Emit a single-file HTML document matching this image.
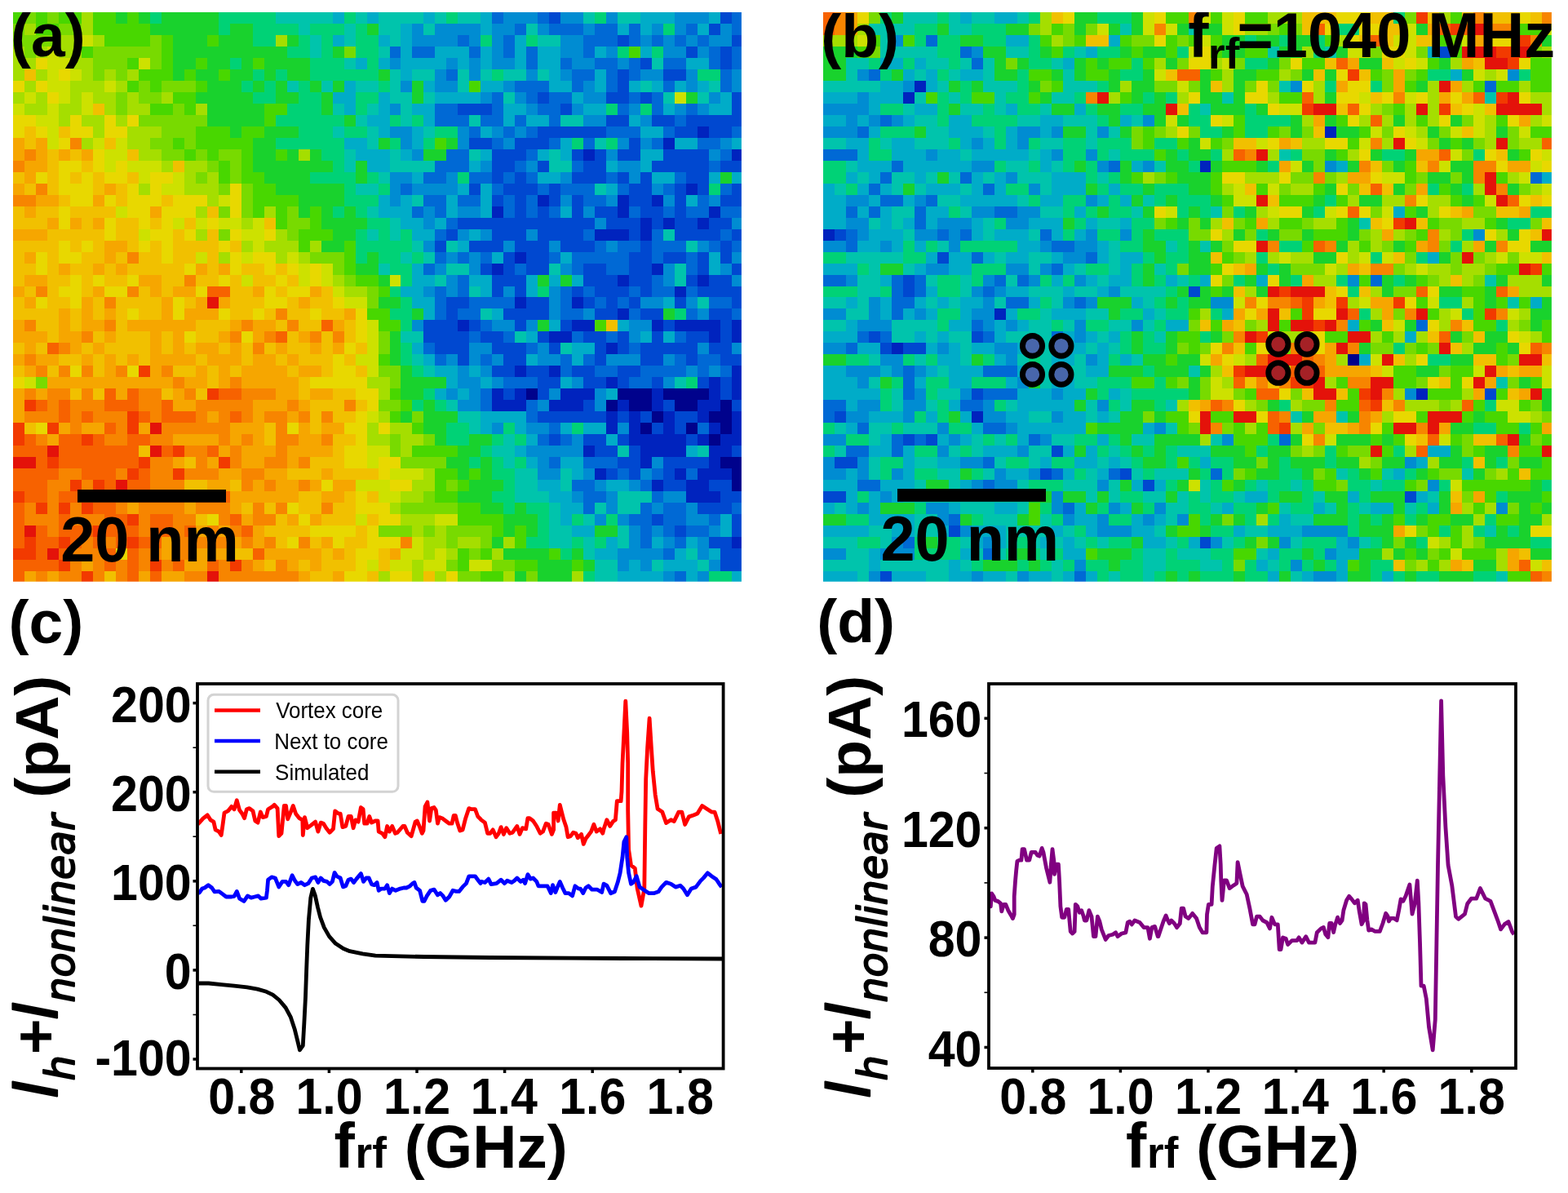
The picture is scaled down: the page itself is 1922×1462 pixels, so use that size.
<!DOCTYPE html>
<html><head><meta charset="utf-8"><title>Figure</title>
<style>html,body{margin:0;padding:0;background:#fff;width:1922px;height:1462px;overflow:hidden}svg{display:block}</style>
</head><body>
<svg xmlns="http://www.w3.org/2000/svg" width="1922" height="1462" viewBox="0 0 1922 1462">
<defs><clipPath id="hc"><rect x="0" y="15" width="1922" height="800"/></clipPath></defs>
<rect width="1922" height="1462" fill="#fff"/>
<svg x="16.00" y="15.00" width="892.90" height="697.86" viewBox="0 0 63.8470 49.9185" preserveAspectRatio="none" shape-rendering="crispEdges">
<path fill="#00028c" d="M45 33h1v1h-1zM53 33h3v1h-3zM57 33h4v1h-4zM52 34h1v1h-1zM54 34h2v1h-2zM58 34h2v1h-2zM62 34h1v1h-1zM56 35h1v1h-1zM61 35h2v1h-2zM55 36h1v1h-1zM59 36h1v1h-1zM62 36h1v1h-1zM61 37h1v1h-1zM62 39h2v1h-2zM63 40h1v1h-1zM63 41h1v1h-1z"/>
<path fill="#0023be" d="M60 10h1v1h-1zM57 11h1v1h-1zM50 12h1v1h-1zM63 12h1v1h-1zM59 15h1v1h-1zM46 16h1v1h-1zM53 16h1v1h-1zM56 16h1v1h-1zM42 17h1v1h-1zM53 17h1v1h-1zM61 17h1v1h-1zM55 18h1v1h-1zM57 18h1v1h-1zM60 18h1v1h-1zM51 19h3v1h-3zM55 19h1v1h-1zM44 21h1v1h-1zM42 22h1v1h-1zM56 22h1v1h-1zM53 23h1v1h-1zM60 23h1v1h-1zM58 24h1v1h-1zM44 25h1v1h-1zM49 25h1v1h-1zM53 26h1v1h-1zM39 27h1v1h-1zM49 27h2v1h-2zM56 27h1v1h-1zM58 27h4v1h-4zM63 27h1v1h-1zM47 28h2v1h-2zM61 28h1v1h-1zM63 28h1v1h-1zM52 29h1v1h-1zM44 31h1v1h-1zM47 31h1v1h-1zM63 31h1v1h-1zM52 32h1v1h-1zM61 32h1v1h-1zM63 32h1v1h-1zM42 33h1v1h-1zM44 33h1v1h-1zM48 33h3v1h-3zM56 33h1v1h-1zM61 33h1v1h-1zM63 33h1v1h-1zM42 34h3v1h-3zM47 34h3v1h-3zM53 34h1v1h-1zM56 34h1v1h-1zM60 34h2v1h-2zM52 35h1v1h-1zM54 35h1v1h-1zM57 35h1v1h-1zM60 35h1v1h-1zM63 35h1v1h-1zM52 36h1v1h-1zM54 36h1v1h-1zM57 36h1v1h-1zM61 36h1v1h-1zM63 36h1v1h-1zM54 37h5v1h-5zM60 37h1v1h-1zM62 37h2v1h-2zM50 38h1v1h-1zM55 38h4v1h-4zM61 38h2v1h-2zM55 39h1v1h-1zM61 39h1v1h-1zM51 40h1v1h-1zM58 40h1v1h-1zM60 40h3v1h-3zM56 41h1v1h-1zM59 41h2v1h-2zM59 42h3v1h-3zM63 46h1v1h-1z"/>
<path fill="#0048d0" d="M47 0h1v1h-1zM62 0h1v1h-1zM61 1h1v1h-1zM53 2h1v1h-1zM63 2h1v1h-1zM59 3h1v1h-1zM62 3h1v1h-1zM55 4h1v1h-1zM62 4h1v1h-1zM53 5h1v1h-1zM57 5h2v1h-2zM53 6h1v1h-1zM46 7h1v1h-1zM52 7h2v1h-2zM55 7h1v1h-1zM63 7h1v1h-1zM39 8h3v1h-3zM48 8h1v1h-1zM63 8h1v1h-1zM52 9h2v1h-2zM56 9h2v1h-2zM59 9h5v1h-5zM46 10h6v1h-6zM58 10h2v1h-2zM61 10h2v1h-2zM40 11h2v1h-2zM44 11h3v1h-3zM54 11h1v1h-1zM42 12h3v1h-3zM49 12h1v1h-1zM51 12h1v1h-1zM53 12h2v1h-2zM57 12h4v1h-4zM42 13h2v1h-2zM46 13h1v1h-1zM50 13h2v1h-2zM56 13h5v1h-5zM62 13h2v1h-2zM42 14h1v1h-1zM44 14h1v1h-1zM49 14h3v1h-3zM53 14h1v1h-1zM55 14h1v1h-1zM59 14h2v1h-2zM40 15h1v1h-1zM43 15h3v1h-3zM47 15h1v1h-1zM54 15h2v1h-2zM58 15h1v1h-1zM60 15h1v1h-1zM63 15h1v1h-1zM42 16h1v1h-1zM44 16h1v1h-1zM47 16h1v1h-1zM49 16h1v1h-1zM54 16h2v1h-2zM58 16h1v1h-1zM62 16h2v1h-2zM44 17h1v1h-1zM46 17h1v1h-1zM49 17h1v1h-1zM51 17h2v1h-2zM55 17h2v1h-2zM58 17h1v1h-1zM39 18h12v1h-12zM52 18h3v1h-3zM56 18h1v1h-1zM58 18h2v1h-2zM61 18h2v1h-2zM38 19h1v1h-1zM42 19h3v1h-3zM46 19h4v1h-4zM54 19h1v1h-1zM58 19h4v1h-4zM63 19h1v1h-1zM37 20h1v1h-1zM40 20h3v1h-3zM44 20h3v1h-3zM48 20h3v1h-3zM55 20h1v1h-1zM62 20h1v1h-1zM43 21h1v1h-1zM45 21h2v1h-2zM54 21h2v1h-2zM57 21h2v1h-2zM60 21h1v1h-1zM62 21h1v1h-1zM41 22h1v1h-1zM43 22h1v1h-1zM45 22h2v1h-2zM50 22h2v1h-2zM54 22h2v1h-2zM60 22h1v1h-1zM63 22h1v1h-1zM42 23h3v1h-3zM50 23h3v1h-3zM54 23h2v1h-2zM59 23h1v1h-1zM61 23h2v1h-2zM42 24h1v1h-1zM44 24h1v1h-1zM49 24h1v1h-1zM51 24h3v1h-3zM55 24h1v1h-1zM60 24h4v1h-4zM38 25h2v1h-2zM45 25h2v1h-2zM50 25h1v1h-1zM52 25h1v1h-1zM54 25h1v1h-1zM58 25h1v1h-1zM63 25h1v1h-1zM38 26h1v1h-1zM43 26h4v1h-4zM51 26h2v1h-2zM55 26h2v1h-2zM61 26h2v1h-2zM36 27h3v1h-3zM40 27h1v1h-1zM44 27h1v1h-1zM48 27h1v1h-1zM57 27h1v1h-1zM62 27h1v1h-1zM36 28h4v1h-4zM41 28h2v1h-2zM46 28h1v1h-1zM50 28h2v1h-2zM53 28h1v1h-1zM56 28h1v1h-1zM59 28h2v1h-2zM62 28h1v1h-1zM37 29h3v1h-3zM42 29h3v1h-3zM47 29h1v1h-1zM51 29h1v1h-1zM53 29h1v1h-1zM55 29h5v1h-5zM61 29h2v1h-2zM39 30h1v1h-1zM43 30h2v1h-2zM51 30h1v1h-1zM55 30h2v1h-2zM59 30h1v1h-1zM62 30h2v1h-2zM42 31h2v1h-2zM45 31h2v1h-2zM49 31h2v1h-2zM53 31h2v1h-2zM46 32h2v1h-2zM50 32h2v1h-2zM53 32h1v1h-1zM56 32h1v1h-1zM60 32h1v1h-1zM62 32h1v1h-1zM43 33h1v1h-1zM46 33h1v1h-1zM62 33h1v1h-1zM50 34h1v1h-1zM57 34h1v1h-1zM63 34h1v1h-1zM46 35h6v1h-6zM53 35h1v1h-1zM55 35h1v1h-1zM58 35h2v1h-2zM56 36h1v1h-1zM58 36h1v1h-1zM47 37h1v1h-1zM50 37h2v1h-2zM53 37h1v1h-1zM59 37h1v1h-1zM51 38h2v1h-2zM54 38h1v1h-1zM63 38h1v1h-1zM53 39h2v1h-2zM57 39h4v1h-4zM52 40h1v1h-1zM54 40h1v1h-1zM57 40h1v1h-1zM57 41h2v1h-2zM61 41h2v1h-2zM62 42h2v1h-2zM60 43h3v1h-3zM56 44h1v1h-1zM63 44h1v1h-1zM58 45h1v1h-1zM63 45h1v1h-1zM61 46h2v1h-2zM62 47h2v1h-2zM62 48h2v1h-2z"/>
<path fill="#0069d5" d="M42 0h1v1h-1zM46 0h1v1h-1zM63 0h1v1h-1zM44 1h1v1h-1zM47 1h3v1h-3zM51 1h2v1h-2zM54 1h1v1h-1zM59 1h1v1h-1zM63 1h1v1h-1zM39 2h1v1h-1zM43 2h1v1h-1zM50 2h3v1h-3zM54 2h1v1h-1zM56 2h1v1h-1zM58 2h1v1h-1zM60 2h1v1h-1zM33 3h1v1h-1zM35 3h2v1h-2zM40 3h1v1h-1zM43 3h1v1h-1zM45 3h1v1h-1zM50 3h1v1h-1zM61 3h1v1h-1zM63 3h1v1h-1zM45 4h1v1h-1zM48 4h1v1h-1zM51 4h2v1h-2zM54 4h1v1h-1zM57 4h2v1h-2zM61 4h1v1h-1zM63 4h1v1h-1zM38 5h1v1h-1zM49 5h2v1h-2zM52 5h1v1h-1zM54 5h1v1h-1zM62 5h1v1h-1zM44 6h3v1h-3zM49 6h1v1h-1zM52 6h1v1h-1zM57 6h1v1h-1zM62 6h1v1h-1zM42 7h1v1h-1zM45 7h1v1h-1zM47 7h2v1h-2zM54 7h1v1h-1zM56 7h1v1h-1zM37 8h2v1h-2zM42 8h1v1h-1zM46 8h2v1h-2zM53 8h1v1h-1zM56 8h1v1h-1zM59 8h1v1h-1zM37 9h3v1h-3zM41 9h2v1h-2zM44 9h1v1h-1zM47 9h1v1h-1zM58 9h1v1h-1zM40 10h1v1h-1zM43 10h1v1h-1zM45 10h1v1h-1zM52 10h3v1h-3zM57 10h1v1h-1zM63 10h1v1h-1zM42 11h1v1h-1zM47 11h1v1h-1zM50 11h1v1h-1zM56 11h1v1h-1zM60 11h2v1h-2zM38 12h2v1h-2zM45 12h1v1h-1zM62 12h1v1h-1zM37 13h3v1h-3zM44 13h1v1h-1zM49 13h1v1h-1zM61 13h1v1h-1zM36 14h2v1h-2zM40 14h2v1h-2zM43 14h1v1h-1zM45 14h1v1h-1zM52 14h1v1h-1zM58 14h1v1h-1zM34 15h1v1h-1zM42 15h1v1h-1zM46 15h1v1h-1zM48 15h3v1h-3zM53 15h1v1h-1zM57 15h1v1h-1zM62 15h1v1h-1zM36 16h2v1h-2zM39 16h2v1h-2zM43 16h1v1h-1zM45 16h1v1h-1zM50 16h2v1h-2zM60 16h1v1h-1zM35 17h1v1h-1zM37 17h1v1h-1zM43 17h1v1h-1zM45 17h1v1h-1zM47 17h1v1h-1zM54 17h1v1h-1zM57 17h1v1h-1zM59 17h2v1h-2zM62 17h2v1h-2zM38 18h1v1h-1zM37 19h1v1h-1zM50 19h1v1h-1zM56 19h1v1h-1zM62 19h1v1h-1zM51 20h1v1h-1zM53 20h2v1h-2zM56 20h3v1h-3zM61 20h1v1h-1zM63 20h1v1h-1zM37 21h1v1h-1zM39 21h1v1h-1zM41 21h1v1h-1zM47 21h1v1h-1zM49 21h5v1h-5zM56 21h1v1h-1zM59 21h1v1h-1zM36 22h1v1h-1zM44 22h1v1h-1zM49 22h1v1h-1zM52 22h2v1h-2zM59 22h1v1h-1zM39 23h1v1h-1zM56 23h1v1h-1zM37 24h1v1h-1zM39 24h1v1h-1zM48 24h1v1h-1zM50 24h1v1h-1zM54 24h1v1h-1zM56 24h2v1h-2zM59 24h1v1h-1zM37 25h1v1h-1zM40 25h4v1h-4zM48 25h1v1h-1zM51 25h1v1h-1zM53 25h1v1h-1zM61 25h2v1h-2zM37 26h1v1h-1zM39 26h2v1h-2zM48 26h2v1h-2zM54 26h1v1h-1zM59 26h1v1h-1zM63 26h1v1h-1zM41 27h1v1h-1zM40 28h1v1h-1zM43 28h1v1h-1zM49 28h1v1h-1zM52 28h1v1h-1zM58 28h1v1h-1zM36 29h1v1h-1zM45 29h1v1h-1zM54 29h1v1h-1zM37 30h1v1h-1zM41 30h1v1h-1zM48 30h1v1h-1zM50 30h1v1h-1zM58 30h1v1h-1zM60 30h2v1h-2zM48 31h1v1h-1zM51 31h2v1h-2zM55 31h4v1h-4zM60 31h1v1h-1zM62 31h1v1h-1zM43 32h3v1h-3zM54 32h2v1h-2zM41 33h1v1h-1zM41 34h1v1h-1zM45 34h1v1h-1zM45 35h1v1h-1zM47 36h1v1h-1zM60 36h1v1h-1zM46 37h1v1h-1zM48 37h1v1h-1zM47 39h1v1h-1zM50 39h3v1h-3zM53 40h1v1h-1zM56 40h1v1h-1zM59 40h1v1h-1zM49 41h2v1h-2zM55 41h1v1h-1zM50 42h2v1h-2zM56 42h1v1h-1zM50 43h1v1h-1zM55 43h1v1h-1zM57 43h2v1h-2zM63 43h1v1h-1zM54 44h2v1h-2zM57 44h2v1h-2zM61 44h1v1h-1zM55 45h1v1h-1zM57 45h1v1h-1zM59 45h2v1h-2zM55 46h1v1h-1zM58 46h1v1h-1zM57 47h1v1h-1zM58 49h1v1h-1z"/>
<path fill="#008cd2" d="M43 0h3v1h-3zM48 0h2v1h-2zM52 0h1v1h-1zM58 0h3v1h-3zM35 1h1v1h-1zM37 1h4v1h-4zM42 1h2v1h-2zM46 1h1v1h-1zM50 1h1v1h-1zM56 1h1v1h-1zM58 1h1v1h-1zM62 1h1v1h-1zM35 2h4v1h-4zM40 2h1v1h-1zM42 2h1v1h-1zM48 2h2v1h-2zM55 2h1v1h-1zM57 2h1v1h-1zM59 2h1v1h-1zM61 2h2v1h-2zM42 3h1v1h-1zM48 3h2v1h-2zM52 3h1v1h-1zM57 3h2v1h-2zM60 3h1v1h-1zM33 4h1v1h-1zM38 4h1v1h-1zM40 4h1v1h-1zM42 4h2v1h-2zM49 4h2v1h-2zM53 4h1v1h-1zM37 5h1v1h-1zM40 5h1v1h-1zM45 5h1v1h-1zM48 5h1v1h-1zM55 5h2v1h-2zM59 5h1v1h-1zM63 5h1v1h-1zM34 6h1v1h-1zM37 6h2v1h-2zM43 6h1v1h-1zM50 6h1v1h-1zM59 6h1v1h-1zM63 6h1v1h-1zM41 7h1v1h-1zM44 7h1v1h-1zM50 7h2v1h-2zM61 7h1v1h-1zM33 8h1v1h-1zM45 8h1v1h-1zM49 8h1v1h-1zM54 8h1v1h-1zM58 8h1v1h-1zM60 8h1v1h-1zM50 9h2v1h-2zM55 9h1v1h-1zM33 10h2v1h-2zM39 10h1v1h-1zM42 10h1v1h-1zM44 10h1v1h-1zM34 11h1v1h-1zM39 11h1v1h-1zM43 11h1v1h-1zM53 11h1v1h-1zM55 11h1v1h-1zM62 11h1v1h-1zM35 12h1v1h-1zM52 12h1v1h-1zM61 12h1v1h-1zM41 13h1v1h-1zM45 13h1v1h-1zM53 13h2v1h-2zM33 14h2v1h-2zM38 14h1v1h-1zM48 14h1v1h-1zM54 14h1v1h-1zM33 15h1v1h-1zM35 15h4v1h-4zM56 15h1v1h-1zM33 16h1v1h-1zM48 16h1v1h-1zM52 16h1v1h-1zM57 16h1v1h-1zM61 16h1v1h-1zM36 17h1v1h-1zM39 17h2v1h-2zM50 17h1v1h-1zM36 18h1v1h-1zM51 18h1v1h-1zM63 18h1v1h-1zM39 19h1v1h-1zM41 19h1v1h-1zM45 19h1v1h-1zM36 20h1v1h-1zM43 20h1v1h-1zM47 20h1v1h-1zM52 20h1v1h-1zM60 20h1v1h-1zM38 21h1v1h-1zM40 21h1v1h-1zM63 21h1v1h-1zM37 22h1v1h-1zM40 22h1v1h-1zM48 22h1v1h-1zM57 22h1v1h-1zM62 22h1v1h-1zM38 23h1v1h-1zM57 23h1v1h-1zM63 23h1v1h-1zM36 24h1v1h-1zM38 24h1v1h-1zM43 24h1v1h-1zM47 24h1v1h-1zM47 25h1v1h-1zM55 25h2v1h-2zM59 25h1v1h-1zM47 26h1v1h-1zM50 26h1v1h-1zM60 26h1v1h-1zM35 27h1v1h-1zM42 27h2v1h-2zM45 27h1v1h-1zM54 27h2v1h-2zM54 28h1v1h-1zM40 29h2v1h-2zM46 29h1v1h-1zM60 29h1v1h-1zM63 29h1v1h-1zM38 30h1v1h-1zM40 30h1v1h-1zM42 30h1v1h-1zM46 30h2v1h-2zM52 30h3v1h-3zM57 30h1v1h-1zM39 31h1v1h-1zM41 31h1v1h-1zM59 31h1v1h-1zM61 31h1v1h-1zM39 32h2v1h-2zM42 32h1v1h-1zM49 32h1v1h-1zM57 32h1v1h-1zM38 33h1v1h-1zM40 33h1v1h-1zM47 33h1v1h-1zM51 33h1v1h-1zM39 34h2v1h-2zM46 34h1v1h-1zM51 34h1v1h-1zM42 36h1v1h-1zM45 36h2v1h-2zM53 36h1v1h-1zM49 37h1v1h-1zM45 38h5v1h-5zM46 39h1v1h-1zM56 39h1v1h-1zM46 40h2v1h-2zM50 40h1v1h-1zM55 40h1v1h-1zM51 41h1v1h-1zM54 41h1v1h-1zM49 42h1v1h-1zM52 42h1v1h-1zM57 42h2v1h-2zM52 43h1v1h-1zM56 43h1v1h-1zM59 43h1v1h-1zM51 44h1v1h-1zM53 44h1v1h-1zM59 44h2v1h-2zM54 45h1v1h-1zM56 45h1v1h-1zM61 45h1v1h-1zM54 46h1v1h-1zM57 46h1v1h-1zM60 46h1v1h-1zM53 47h4v1h-4zM60 47h1v1h-1zM53 48h1v1h-1zM55 48h1v1h-1zM61 48h1v1h-1zM57 49h1v1h-1zM60 49h1v1h-1z"/>
<path fill="#00acc8" d="M28 0h1v1h-1zM31 0h1v1h-1zM36 0h1v1h-1zM41 0h1v1h-1zM55 0h3v1h-3zM61 0h1v1h-1zM34 1h1v1h-1zM41 1h1v1h-1zM53 1h1v1h-1zM55 1h1v1h-1zM60 1h1v1h-1zM28 2h1v1h-1zM32 2h1v1h-1zM34 2h1v1h-1zM44 2h1v1h-1zM34 3h1v1h-1zM37 3h3v1h-3zM41 3h1v1h-1zM44 3h1v1h-1zM46 3h2v1h-2zM51 3h1v1h-1zM55 3h1v1h-1zM30 4h1v1h-1zM32 4h1v1h-1zM34 4h4v1h-4zM39 4h1v1h-1zM41 4h1v1h-1zM44 4h1v1h-1zM46 4h2v1h-2zM59 4h2v1h-2zM34 5h1v1h-1zM47 5h1v1h-1zM51 5h1v1h-1zM29 6h1v1h-1zM36 6h1v1h-1zM41 6h2v1h-2zM47 6h2v1h-2zM51 6h1v1h-1zM54 6h1v1h-1zM56 6h1v1h-1zM58 6h1v1h-1zM60 6h1v1h-1zM28 7h2v1h-2zM32 7h1v1h-1zM37 7h4v1h-4zM49 7h1v1h-1zM62 7h1v1h-1zM29 8h1v1h-1zM32 8h1v1h-1zM35 8h2v1h-2zM43 8h2v1h-2zM50 8h2v1h-2zM57 8h1v1h-1zM61 8h2v1h-2zM31 9h2v1h-2zM36 9h1v1h-1zM43 9h1v1h-1zM45 9h2v1h-2zM54 9h1v1h-1zM32 10h1v1h-1zM35 10h1v1h-1zM41 10h1v1h-1zM55 10h2v1h-2zM29 11h2v1h-2zM35 11h1v1h-1zM48 11h1v1h-1zM58 11h2v1h-2zM63 11h1v1h-1zM30 12h3v1h-3zM34 12h1v1h-1zM41 12h1v1h-1zM46 12h1v1h-1zM48 12h1v1h-1zM55 12h2v1h-2zM31 13h2v1h-2zM40 13h1v1h-1zM52 13h1v1h-1zM55 13h1v1h-1zM35 14h1v1h-1zM46 14h2v1h-2zM56 14h2v1h-2zM61 14h1v1h-1zM63 14h1v1h-1zM39 15h1v1h-1zM41 15h1v1h-1zM52 15h1v1h-1zM32 16h1v1h-1zM34 16h1v1h-1zM38 16h1v1h-1zM41 16h1v1h-1zM59 16h1v1h-1zM32 17h3v1h-3zM38 17h1v1h-1zM41 17h1v1h-1zM48 17h1v1h-1zM34 18h2v1h-2zM37 18h1v1h-1zM35 19h2v1h-2zM40 19h1v1h-1zM39 20h1v1h-1zM42 21h1v1h-1zM48 21h1v1h-1zM61 21h1v1h-1zM35 22h1v1h-1zM61 22h1v1h-1zM35 23h2v1h-2zM40 23h2v1h-2zM45 23h1v1h-1zM47 23h1v1h-1zM49 23h1v1h-1zM34 24h2v1h-2zM41 24h1v1h-1zM45 24h1v1h-1zM35 25h2v1h-2zM57 25h1v1h-1zM36 26h1v1h-1zM42 26h1v1h-1zM47 27h1v1h-1zM53 27h1v1h-1zM45 28h1v1h-1zM55 28h1v1h-1zM57 28h1v1h-1zM35 29h1v1h-1zM49 29h2v1h-2zM36 30h1v1h-1zM45 30h1v1h-1zM49 30h1v1h-1zM37 31h2v1h-2zM40 31h1v1h-1zM38 32h1v1h-1zM41 32h1v1h-1zM48 32h1v1h-1zM37 33h1v1h-1zM39 33h1v1h-1zM52 33h1v1h-1zM41 35h4v1h-4zM41 36h1v1h-1zM44 36h1v1h-1zM48 36h1v1h-1zM50 36h2v1h-2zM45 37h1v1h-1zM52 37h1v1h-1zM44 38h1v1h-1zM59 38h1v1h-1zM45 39h1v1h-1zM48 39h2v1h-2zM49 40h1v1h-1zM46 41h2v1h-2zM52 41h2v1h-2zM47 42h2v1h-2zM48 43h2v1h-2zM48 44h1v1h-1zM62 44h1v1h-1zM49 45h2v1h-2zM62 45h1v1h-1zM52 46h1v1h-1zM56 46h1v1h-1zM59 46h1v1h-1zM51 47h2v1h-2zM58 47h1v1h-1zM61 47h1v1h-1zM54 48h1v1h-1zM57 48h3v1h-3zM53 49h4v1h-4zM59 49h1v1h-1zM63 49h1v1h-1z"/>
<path fill="#00c4ac" d="M23 0h5v1h-5zM30 0h1v1h-1zM32 0h4v1h-4zM37 0h1v1h-1zM39 0h2v1h-2zM50 0h1v1h-1zM53 0h2v1h-2zM25 1h1v1h-1zM29 1h1v1h-1zM32 1h2v1h-2zM36 1h1v1h-1zM45 1h1v1h-1zM26 2h1v1h-1zM29 2h1v1h-1zM33 2h1v1h-1zM46 2h2v1h-2zM26 3h1v1h-1zM32 3h1v1h-1zM29 4h1v1h-1zM56 4h1v1h-1zM33 5h1v1h-1zM35 5h2v1h-2zM39 5h1v1h-1zM41 5h1v1h-1zM43 5h2v1h-2zM46 5h1v1h-1zM24 6h1v1h-1zM27 6h1v1h-1zM30 6h2v1h-2zM33 6h1v1h-1zM39 6h1v1h-1zM55 6h1v1h-1zM61 6h1v1h-1zM33 7h2v1h-2zM36 7h1v1h-1zM43 7h1v1h-1zM57 7h1v1h-1zM60 7h1v1h-1zM28 8h1v1h-1zM31 8h1v1h-1zM34 8h1v1h-1zM30 9h1v1h-1zM34 9h1v1h-1zM40 9h1v1h-1zM48 9h2v1h-2zM28 10h1v1h-1zM31 10h1v1h-1zM36 10h1v1h-1zM31 11h1v1h-1zM51 11h1v1h-1zM29 12h1v1h-1zM33 12h1v1h-1zM40 12h1v1h-1zM47 12h1v1h-1zM29 13h1v1h-1zM33 13h4v1h-4zM47 13h2v1h-2zM32 14h1v1h-1zM30 15h2v1h-2zM51 15h1v1h-1zM35 16h1v1h-1zM31 17h1v1h-1zM33 18h1v1h-1zM31 19h1v1h-1zM33 19h1v1h-1zM57 19h1v1h-1zM35 20h1v1h-1zM38 20h1v1h-1zM59 20h1v1h-1zM34 21h1v1h-1zM36 21h1v1h-1zM32 22h1v1h-1zM38 22h2v1h-2zM47 22h1v1h-1zM58 22h1v1h-1zM37 23h1v1h-1zM58 23h1v1h-1zM40 24h1v1h-1zM60 25h1v1h-1zM41 26h1v1h-1zM34 28h2v1h-2zM44 28h1v1h-1zM48 29h1v1h-1zM35 30h1v1h-1zM36 31h1v1h-1zM58 32h1v1h-1zM38 34h1v1h-1zM39 35h2v1h-2zM40 36h1v1h-1zM43 37h1v1h-1zM42 38h2v1h-2zM53 38h1v1h-1zM60 38h1v1h-1zM43 39h1v1h-1zM44 40h2v1h-2zM48 40h1v1h-1zM44 41h2v1h-2zM48 41h1v1h-1zM44 42h3v1h-3zM53 42h3v1h-3zM47 43h1v1h-1zM51 43h1v1h-1zM53 43h2v1h-2zM47 44h1v1h-1zM50 44h1v1h-1zM47 45h2v1h-2zM53 45h1v1h-1zM47 46h2v1h-2zM50 46h1v1h-1zM53 46h1v1h-1zM50 47h1v1h-1zM59 47h1v1h-1zM51 48h2v1h-2zM56 48h1v1h-1zM60 48h1v1h-1zM51 49h2v1h-2z"/>
<path fill="#00d276" d="M12 0h1v1h-1zM18 0h5v1h-5zM29 0h1v1h-1zM38 0h1v1h-1zM51 0h1v1h-1zM18 1h1v1h-1zM21 1h4v1h-4zM26 1h3v1h-3zM30 1h1v1h-1zM57 1h1v1h-1zM21 2h2v1h-2zM25 2h1v1h-1zM27 2h1v1h-1zM30 2h2v1h-2zM41 2h1v1h-1zM45 2h1v1h-1zM24 3h2v1h-2zM27 3h1v1h-1zM30 3h2v1h-2zM53 3h1v1h-1zM56 3h1v1h-1zM19 4h1v1h-1zM26 4h3v1h-3zM31 4h1v1h-1zM21 5h1v1h-1zM23 5h1v1h-1zM26 5h6v1h-6zM42 5h1v1h-1zM60 5h2v1h-2zM20 6h1v1h-1zM22 6h1v1h-1zM25 6h1v1h-1zM32 6h1v1h-1zM21 7h2v1h-2zM25 7h2v1h-2zM30 7h2v1h-2zM24 8h3v1h-3zM30 8h1v1h-1zM52 8h1v1h-1zM55 8h1v1h-1zM23 9h6v1h-6zM33 9h1v1h-1zM35 9h1v1h-1zM25 10h3v1h-3zM29 10h2v1h-2zM37 10h2v1h-2zM23 11h6v1h-6zM33 11h1v1h-1zM36 11h1v1h-1zM49 11h1v1h-1zM52 11h1v1h-1zM27 12h2v1h-2zM28 13h1v1h-1zM26 14h4v1h-4zM31 14h1v1h-1zM39 14h1v1h-1zM29 15h1v1h-1zM32 15h1v1h-1zM61 15h1v1h-1zM29 16h3v1h-3zM28 17h1v1h-1zM30 17h1v1h-1zM31 18h2v1h-2zM30 19h1v1h-1zM32 19h1v1h-1zM34 19h1v1h-1zM30 20h5v1h-5zM30 21h1v1h-1zM32 21h2v1h-2zM35 21h1v1h-1zM33 22h2v1h-2zM34 23h1v1h-1zM33 24h1v1h-1zM46 24h1v1h-1zM34 25h1v1h-1zM33 26h2v1h-2zM58 26h1v1h-1zM34 27h1v1h-1zM34 29h1v1h-1zM34 30h1v1h-1zM35 31h1v1h-1zM59 32h1v1h-1zM36 33h1v1h-1zM35 34h1v1h-1zM37 34h1v1h-1zM38 36h2v1h-2zM43 36h1v1h-1zM49 36h1v1h-1zM38 37h2v1h-2zM42 37h1v1h-1zM44 37h1v1h-1zM41 38h1v1h-1zM40 39h1v1h-1zM42 39h1v1h-1zM44 39h1v1h-1zM42 40h2v1h-2zM43 41h1v1h-1zM42 42h2v1h-2zM43 43h1v1h-1zM45 43h2v1h-2zM46 44h1v1h-1zM49 44h1v1h-1zM52 44h1v1h-1zM46 45h1v1h-1zM45 46h2v1h-2zM49 46h1v1h-1zM51 46h1v1h-1zM48 47h1v1h-1zM50 49h1v1h-1zM61 49h2v1h-2z"/>
<path fill="#19d22d" d="M9 0h1v1h-1zM11 0h1v1h-1zM13 0h5v1h-5zM12 1h6v1h-6zM19 1h2v1h-2zM31 1h1v1h-1zM14 2h3v1h-3zM18 2h3v1h-3zM24 2h1v1h-1zM14 3h10v1h-10zM28 3h1v1h-1zM14 4h2v1h-2zM17 4h2v1h-2zM20 4h1v1h-1zM22 4h4v1h-4zM14 5h1v1h-1zM16 5h2v1h-2zM19 5h2v1h-2zM22 5h1v1h-1zM24 5h2v1h-2zM32 5h1v1h-1zM17 6h3v1h-3zM21 6h1v1h-1zM23 6h1v1h-1zM26 6h1v1h-1zM28 6h1v1h-1zM35 6h1v1h-1zM16 7h5v1h-5zM23 7h2v1h-2zM27 7h1v1h-1zM35 7h1v1h-1zM59 7h1v1h-1zM17 8h5v1h-5zM27 8h1v1h-1zM17 9h5v1h-5zM29 9h1v1h-1zM19 10h1v1h-1zM22 10h3v1h-3zM21 11h2v1h-2zM32 11h1v1h-1zM38 11h1v1h-1zM21 12h2v1h-2zM24 12h1v1h-1zM26 12h1v1h-1zM36 12h2v1h-2zM21 13h7v1h-7zM30 13h1v1h-1zM22 14h4v1h-4zM30 14h1v1h-1zM62 14h1v1h-1zM23 15h6v1h-6zM25 16h4v1h-4zM25 17h1v1h-1zM27 17h1v1h-1zM29 17h1v1h-1zM27 18h4v1h-4zM28 19h2v1h-2zM27 20h2v1h-2zM31 21h1v1h-1zM30 22h2v1h-2zM32 23h1v1h-1zM46 23h1v1h-1zM48 23h1v1h-1zM32 25h2v1h-2zM35 26h1v1h-1zM57 26h1v1h-1zM46 27h1v1h-1zM33 28h1v1h-1zM33 29h1v1h-1zM33 30h1v1h-1zM34 31h1v1h-1zM34 32h4v1h-4zM34 33h2v1h-2zM36 34h1v1h-1zM34 35h1v1h-1zM36 35h3v1h-3zM36 36h2v1h-2zM37 37h1v1h-1zM40 37h2v1h-2zM39 38h2v1h-2zM38 39h2v1h-2zM41 39h1v1h-1zM39 40h1v1h-1zM41 40h1v1h-1zM40 41h3v1h-3zM39 42h3v1h-3zM41 43h2v1h-2zM44 43h1v1h-1zM43 44h3v1h-3zM43 45h1v1h-1zM45 45h1v1h-1zM51 45h2v1h-2zM42 46h1v1h-1zM43 47h4v1h-4zM49 47h1v1h-1zM46 48h3v1h-3zM50 48h1v1h-1zM44 49h1v1h-1zM46 49h3v1h-3z"/>
<path fill="#48d700" d="M0 0h1v1h-1zM2 0h1v1h-1zM4 0h2v1h-2zM7 0h2v1h-2zM10 0h1v1h-1zM2 1h2v1h-2zM7 1h5v1h-5zM8 2h4v1h-4zM13 2h1v1h-1zM17 2h1v1h-1zM6 3h1v1h-1zM13 3h1v1h-1zM54 3h1v1h-1zM10 4h1v1h-1zM13 4h1v1h-1zM16 4h1v1h-1zM21 4h1v1h-1zM11 5h3v1h-3zM15 5h1v1h-1zM18 5h1v1h-1zM10 6h1v1h-1zM12 6h1v1h-1zM16 6h1v1h-1zM40 6h1v1h-1zM14 7h2v1h-2zM12 8h2v1h-2zM15 8h1v1h-1zM22 8h2v1h-2zM22 9h1v1h-1zM16 10h3v1h-3zM20 10h2v1h-2zM14 11h1v1h-1zM16 11h5v1h-5zM37 11h1v1h-1zM15 12h1v1h-1zM17 12h1v1h-1zM20 12h1v1h-1zM23 12h1v1h-1zM18 13h1v1h-1zM20 13h1v1h-1zM18 14h1v1h-1zM20 14h2v1h-2zM21 15h2v1h-2zM21 16h4v1h-4zM21 17h1v1h-1zM23 17h1v1h-1zM26 17h1v1h-1zM23 18h1v1h-1zM26 18h1v1h-1zM25 19h3v1h-3zM25 20h1v1h-1zM29 20h1v1h-1zM29 21h1v1h-1zM29 22h1v1h-1zM30 23h2v1h-2zM32 24h1v1h-1zM31 26h2v1h-2zM32 27h2v1h-2zM51 27h1v1h-1zM32 30h1v1h-1zM33 33h1v1h-1zM34 34h1v1h-1zM33 35h1v1h-1zM35 36h1v1h-1zM35 38h4v1h-4zM37 40h2v1h-2zM40 40h1v1h-1zM37 41h1v1h-1zM39 41h1v1h-1zM37 42h2v1h-2zM39 43h2v1h-2zM39 44h4v1h-4zM42 45h1v1h-1zM44 45h1v1h-1zM44 46h1v1h-1zM39 47h1v1h-1zM41 47h1v1h-1zM47 47h1v1h-1zM39 48h1v1h-1zM44 48h2v1h-2zM49 48h1v1h-1zM41 49h2v1h-2z"/>
<path fill="#78da00" d="M1 0h1v1h-1zM3 0h1v1h-1zM0 1h1v1h-1zM4 1h2v1h-2zM0 2h4v1h-4zM12 2h1v1h-1zM1 3h1v1h-1zM7 3h6v1h-6zM29 3h1v1h-1zM7 4h3v1h-3zM12 4h1v1h-1zM7 5h1v1h-1zM9 5h1v1h-1zM11 6h1v1h-1zM13 6h3v1h-3zM9 7h1v1h-1zM11 7h2v1h-2zM9 8h1v1h-1zM14 8h1v1h-1zM11 9h6v1h-6zM13 10h3v1h-3zM12 11h2v1h-2zM15 11h1v1h-1zM13 12h2v1h-2zM16 12h1v1h-1zM18 12h2v1h-2zM17 13h1v1h-1zM19 13h1v1h-1zM16 14h1v1h-1zM19 14h1v1h-1zM18 15h1v1h-1zM20 15h1v1h-1zM20 16h1v1h-1zM18 17h1v1h-1zM20 17h1v1h-1zM24 17h1v1h-1zM24 18h2v1h-2zM18 19h1v1h-1zM24 19h1v1h-1zM26 21h3v1h-3zM28 22h1v1h-1zM29 23h1v1h-1zM31 24h1v1h-1zM31 25h1v1h-1zM32 28h1v1h-1zM32 29h1v1h-1zM32 31h2v1h-2zM2 32h1v1h-1zM33 32h1v1h-1zM32 34h2v1h-2zM35 35h1v1h-1zM33 37h1v1h-1zM36 37h1v1h-1zM33 38h1v1h-1zM34 39h4v1h-4zM38 41h1v1h-1zM36 42h1v1h-1zM34 43h5v1h-5zM32 45h3v1h-3zM36 45h1v1h-1zM38 45h4v1h-4zM38 46h1v1h-1zM41 46h1v1h-1zM40 47h1v1h-1zM38 48h1v1h-1zM42 48h2v1h-2zM39 49h2v1h-2zM45 49h1v1h-1z"/>
<path fill="#a5de00" d="M6 0h1v1h-1zM1 1h1v1h-1zM6 1h1v1h-1zM4 2h2v1h-2zM7 2h1v1h-1zM23 2h1v1h-1zM0 3h1v1h-1zM2 3h1v1h-1zM4 3h2v1h-2zM0 4h2v1h-2zM5 4h2v1h-2zM0 5h1v1h-1zM2 5h1v1h-1zM6 5h1v1h-1zM8 5h1v1h-1zM10 5h1v1h-1zM1 6h1v1h-1zM5 6h3v1h-3zM9 6h1v1h-1zM0 7h1v1h-1zM2 7h1v1h-1zM5 7h1v1h-1zM7 7h2v1h-2zM10 7h1v1h-1zM13 7h1v1h-1zM1 8h2v1h-2zM4 8h2v1h-2zM8 8h1v1h-1zM10 8h2v1h-2zM16 8h1v1h-1zM4 9h1v1h-1zM6 9h2v1h-2zM9 9h1v1h-1zM7 10h1v1h-1zM10 10h3v1h-3zM6 11h1v1h-1zM10 11h2v1h-2zM11 12h2v1h-2zM25 12h1v1h-1zM13 13h1v1h-1zM15 13h2v1h-2zM15 14h1v1h-1zM17 14h1v1h-1zM11 15h1v1h-1zM15 15h3v1h-3zM17 16h1v1h-1zM16 17h1v1h-1zM22 17h1v1h-1zM20 18h1v1h-1zM16 19h1v1h-1zM23 19h1v1h-1zM20 20h1v1h-1zM22 20h3v1h-3zM26 20h1v1h-1zM18 21h1v1h-1zM23 21h1v1h-1zM25 21h1v1h-1zM28 23h1v1h-1zM29 24h2v1h-2zM31 32h2v1h-2zM32 33h1v1h-1zM32 35h1v1h-1zM31 36h1v1h-1zM33 36h2v1h-2zM31 37h2v1h-2zM34 37h2v1h-2zM34 38h1v1h-1zM36 40h1v1h-1zM35 41h2v1h-2zM34 42h2v1h-2zM33 43h1v1h-1zM34 44h3v1h-3zM35 45h1v1h-1zM37 45h1v1h-1zM36 46h2v1h-2zM39 46h2v1h-2zM43 46h1v1h-1zM36 47h1v1h-1zM38 47h1v1h-1zM42 47h1v1h-1zM35 48h1v1h-1zM32 49h1v1h-1zM35 49h1v1h-1zM37 49h1v1h-1zM43 49h1v1h-1zM49 49h1v1h-1z"/>
<path fill="#cde100" d="M6 2h1v1h-1zM3 3h1v1h-1zM3 4h2v1h-2zM11 4h1v1h-1zM3 5h1v1h-1zM5 5h1v1h-1zM3 6h2v1h-2zM8 6h1v1h-1zM1 7h1v1h-1zM4 7h1v1h-1zM6 7h1v1h-1zM58 7h1v1h-1zM0 8h1v1h-1zM3 8h1v1h-1zM6 8h1v1h-1zM2 9h2v1h-2zM3 10h1v1h-1zM3 11h1v1h-1zM7 11h1v1h-1zM9 11h1v1h-1zM8 12h2v1h-2zM8 13h1v1h-1zM10 13h3v1h-3zM11 14h1v1h-1zM14 14h1v1h-1zM13 15h2v1h-2zM18 16h1v1h-1zM9 17h1v1h-1zM14 18h1v1h-1zM16 18h1v1h-1zM18 18h2v1h-2zM21 18h1v1h-1zM11 19h1v1h-1zM20 19h2v1h-2zM21 20h1v1h-1zM16 21h1v1h-1zM20 21h1v1h-1zM24 21h1v1h-1zM25 22h1v1h-1zM27 22h1v1h-1zM20 23h1v1h-1zM25 23h1v1h-1zM27 23h1v1h-1zM33 23h1v1h-1zM28 24h1v1h-1zM29 25h2v1h-2zM31 27h1v1h-1zM31 28h1v1h-1zM31 29h1v1h-1zM30 30h2v1h-2zM31 31h1v1h-1zM1 32h1v1h-1zM31 35h1v1h-1zM31 38h2v1h-2zM31 39h1v1h-1zM33 40h3v1h-3zM30 41h3v1h-3zM32 42h2v1h-2zM30 44h1v1h-1zM37 44h2v1h-2zM35 46h1v1h-1zM34 47h2v1h-2zM37 47h1v1h-1zM31 48h1v1h-1zM33 48h2v1h-2zM36 48h2v1h-2zM40 48h2v1h-2z"/>
<path fill="#e8d800" d="M2 4h1v1h-1zM4 5h1v1h-1zM0 6h1v1h-1zM2 6h1v1h-1zM3 7h1v1h-1zM0 9h2v1h-2zM5 9h1v1h-1zM8 9h1v1h-1zM10 9h1v1h-1zM0 10h1v1h-1zM2 10h1v1h-1zM5 10h2v1h-2zM8 10h2v1h-2zM4 11h1v1h-1zM7 12h1v1h-1zM4 13h2v1h-2zM7 13h1v1h-1zM9 13h1v1h-1zM2 14h1v1h-1zM4 14h1v1h-1zM6 14h1v1h-1zM8 14h2v1h-2zM12 14h2v1h-2zM4 15h3v1h-3zM10 15h1v1h-1zM12 15h1v1h-1zM19 15h1v1h-1zM5 16h2v1h-2zM8 16h1v1h-1zM10 16h3v1h-3zM14 16h3v1h-3zM19 16h1v1h-1zM4 17h1v1h-1zM10 17h2v1h-2zM13 17h3v1h-3zM19 17h1v1h-1zM4 18h1v1h-1zM8 18h1v1h-1zM11 18h1v1h-1zM13 18h1v1h-1zM17 18h1v1h-1zM8 19h1v1h-1zM12 19h2v1h-2zM15 19h1v1h-1zM19 19h1v1h-1zM22 19h1v1h-1zM4 20h1v1h-1zM6 20h1v1h-1zM11 20h1v1h-1zM13 20h1v1h-1zM18 20h1v1h-1zM2 21h1v1h-1zM4 21h2v1h-2zM13 21h1v1h-1zM19 21h1v1h-1zM21 21h2v1h-2zM2 22h1v1h-1zM15 22h1v1h-1zM19 22h1v1h-1zM22 22h1v1h-1zM24 22h1v1h-1zM26 22h1v1h-1zM5 23h1v1h-1zM7 23h1v1h-1zM10 23h1v1h-1zM18 23h1v1h-1zM23 23h1v1h-1zM26 23h1v1h-1zM4 24h2v1h-2zM8 24h2v1h-2zM16 24h1v1h-1zM22 24h1v1h-1zM24 24h2v1h-2zM2 25h1v1h-1zM5 25h1v1h-1zM14 25h1v1h-1zM22 25h2v1h-2zM28 25h1v1h-1zM10 26h1v1h-1zM14 26h1v1h-1zM18 26h1v1h-1zM21 26h1v1h-1zM26 26h1v1h-1zM30 26h1v1h-1zM30 27h1v1h-1zM15 28h1v1h-1zM20 28h1v1h-1zM30 28h1v1h-1zM29 29h1v1h-1zM28 30h1v1h-1zM5 31h1v1h-1zM10 31h1v1h-1zM28 31h2v1h-2zM0 32h1v1h-1zM26 32h5v1h-5zM30 33h2v1h-2zM31 34h1v1h-1zM30 35h1v1h-1zM2 36h1v1h-1zM24 36h1v1h-1zM29 36h2v1h-2zM32 36h1v1h-1zM30 37h1v1h-1zM29 38h2v1h-2zM29 39h2v1h-2zM32 39h2v1h-2zM32 40h1v1h-1zM27 41h1v1h-1zM33 41h2v1h-2zM30 42h1v1h-1zM24 43h1v1h-1zM30 43h3v1h-3zM17 44h1v1h-1zM25 44h1v1h-1zM32 44h2v1h-2zM26 45h4v1h-4zM31 45h1v1h-1zM24 46h1v1h-1zM28 46h1v1h-1zM31 46h3v1h-3zM9 47h1v1h-1zM30 47h2v1h-2zM30 48h1v1h-1zM29 49h2v1h-2zM33 49h2v1h-2zM38 49h1v1h-1z"/>
<path fill="#f1c000" d="M1 5h1v1h-1zM7 8h1v1h-1zM1 10h1v1h-1zM4 10h1v1h-1zM1 11h1v1h-1zM8 11h1v1h-1zM3 12h1v1h-1zM5 12h1v1h-1zM10 12h1v1h-1zM3 13h1v1h-1zM6 13h1v1h-1zM14 13h1v1h-1zM0 14h1v1h-1zM3 14h1v1h-1zM5 14h1v1h-1zM7 14h1v1h-1zM10 14h1v1h-1zM1 15h1v1h-1zM3 15h1v1h-1zM7 15h1v1h-1zM9 15h1v1h-1zM4 16h1v1h-1zM9 16h1v1h-1zM13 16h1v1h-1zM0 17h1v1h-1zM2 17h2v1h-2zM5 17h4v1h-4zM17 17h1v1h-1zM0 18h3v1h-3zM6 18h1v1h-1zM9 18h2v1h-2zM12 18h1v1h-1zM15 18h1v1h-1zM22 18h1v1h-1zM3 19h5v1h-5zM9 19h2v1h-2zM14 19h1v1h-1zM17 19h1v1h-1zM0 20h4v1h-4zM5 20h1v1h-1zM7 20h1v1h-1zM10 20h1v1h-1zM12 20h1v1h-1zM14 20h4v1h-4zM19 20h1v1h-1zM0 21h1v1h-1zM3 21h1v1h-1zM6 21h2v1h-2zM9 21h1v1h-1zM11 21h2v1h-2zM14 21h2v1h-2zM17 21h1v1h-1zM0 22h2v1h-2zM3 22h1v1h-1zM5 22h2v1h-2zM8 22h1v1h-1zM10 22h5v1h-5zM17 22h1v1h-1zM20 22h2v1h-2zM23 22h1v1h-1zM0 23h1v1h-1zM3 23h2v1h-2zM6 23h1v1h-1zM8 23h2v1h-2zM13 23h2v1h-2zM16 23h2v1h-2zM19 23h1v1h-1zM21 23h2v1h-2zM24 23h1v1h-1zM1 24h1v1h-1zM3 24h1v1h-1zM6 24h1v1h-1zM11 24h1v1h-1zM13 24h1v1h-1zM19 24h2v1h-2zM23 24h1v1h-1zM27 24h1v1h-1zM0 25h1v1h-1zM3 25h2v1h-2zM7 25h1v1h-1zM9 25h4v1h-4zM15 25h1v1h-1zM19 25h3v1h-3zM24 25h1v1h-1zM26 25h2v1h-2zM0 26h4v1h-4zM5 26h1v1h-1zM7 26h1v1h-1zM9 26h1v1h-1zM11 26h2v1h-2zM19 26h2v1h-2zM22 26h1v1h-1zM24 26h2v1h-2zM27 26h2v1h-2zM2 27h2v1h-2zM5 27h1v1h-1zM9 27h1v1h-1zM16 27h3v1h-3zM23 27h1v1h-1zM25 27h2v1h-2zM29 27h1v1h-1zM52 27h1v1h-1zM3 28h1v1h-1zM7 28h1v1h-1zM9 28h3v1h-3zM13 28h1v1h-1zM16 28h2v1h-2zM24 28h1v1h-1zM27 28h1v1h-1zM29 28h1v1h-1zM0 29h1v1h-1zM2 29h1v1h-1zM6 29h1v1h-1zM8 29h4v1h-4zM13 29h1v1h-1zM15 29h1v1h-1zM18 29h1v1h-1zM20 29h1v1h-1zM22 29h1v1h-1zM24 29h2v1h-2zM27 29h1v1h-1zM30 29h1v1h-1zM4 30h2v1h-2zM7 30h1v1h-1zM9 30h1v1h-1zM11 30h1v1h-1zM16 30h1v1h-1zM20 30h1v1h-1zM23 30h1v1h-1zM25 30h3v1h-3zM29 30h1v1h-1zM0 31h1v1h-1zM3 31h1v1h-1zM7 31h1v1h-1zM14 31h2v1h-2zM17 31h1v1h-1zM19 31h1v1h-1zM24 31h1v1h-1zM27 31h1v1h-1zM30 31h1v1h-1zM17 32h1v1h-1zM25 32h1v1h-1zM5 33h1v1h-1zM7 33h1v1h-1zM13 33h1v1h-1zM16 33h1v1h-1zM25 33h1v1h-1zM28 33h2v1h-2zM26 34h3v1h-3zM30 34h1v1h-1zM26 35h1v1h-1zM28 35h2v1h-2zM1 36h1v1h-1zM22 36h1v1h-1zM26 36h1v1h-1zM22 37h1v1h-1zM28 37h2v1h-2zM11 38h1v1h-1zM28 38h1v1h-1zM15 39h1v1h-1zM26 39h3v1h-3zM24 40h3v1h-3zM28 40h4v1h-4zM15 41h2v1h-2zM19 41h1v1h-1zM25 42h2v1h-2zM29 42h1v1h-1zM31 42h1v1h-1zM20 43h1v1h-1zM22 43h1v1h-1zM25 43h2v1h-2zM28 43h2v1h-2zM16 44h1v1h-1zM23 44h1v1h-1zM27 44h3v1h-3zM31 44h1v1h-1zM22 45h4v1h-4zM30 45h1v1h-1zM23 46h1v1h-1zM26 46h1v1h-1zM29 46h2v1h-2zM19 47h2v1h-2zM27 47h1v1h-1zM29 47h1v1h-1zM32 47h1v1h-1zM22 48h1v1h-1zM25 48h1v1h-1zM27 48h3v1h-3zM32 48h1v1h-1zM8 49h1v1h-1zM26 49h2v1h-2zM31 49h1v1h-1zM36 49h1v1h-1z"/>
<path fill="#f6a600" d="M0 11h1v1h-1zM2 11h1v1h-1zM0 12h1v1h-1zM2 12h1v1h-1zM4 12h1v1h-1zM6 12h1v1h-1zM1 13h2v1h-2zM1 14h1v1h-1zM0 15h1v1h-1zM8 15h1v1h-1zM2 16h2v1h-2zM7 16h1v1h-1zM1 17h1v1h-1zM12 17h1v1h-1zM3 18h1v1h-1zM5 18h1v1h-1zM7 18h1v1h-1zM0 19h3v1h-3zM8 20h2v1h-2zM1 21h1v1h-1zM8 21h1v1h-1zM4 22h1v1h-1zM7 22h1v1h-1zM9 22h1v1h-1zM16 22h1v1h-1zM18 22h1v1h-1zM1 23h2v1h-2zM11 23h2v1h-2zM0 24h1v1h-1zM7 24h1v1h-1zM12 24h1v1h-1zM14 24h2v1h-2zM21 24h1v1h-1zM26 24h1v1h-1zM1 25h1v1h-1zM6 25h1v1h-1zM13 25h1v1h-1zM16 25h1v1h-1zM18 25h1v1h-1zM25 25h1v1h-1zM4 26h1v1h-1zM6 26h1v1h-1zM8 26h1v1h-1zM13 26h1v1h-1zM15 26h3v1h-3zM29 26h1v1h-1zM0 27h1v1h-1zM4 27h1v1h-1zM6 27h2v1h-2zM10 27h6v1h-6zM19 27h1v1h-1zM21 27h2v1h-2zM28 27h1v1h-1zM0 28h3v1h-3zM4 28h2v1h-2zM8 28h1v1h-1zM12 28h1v1h-1zM14 28h1v1h-1zM18 28h1v1h-1zM21 28h1v1h-1zM25 28h1v1h-1zM1 29h1v1h-1zM5 29h1v1h-1zM7 29h1v1h-1zM12 29h1v1h-1zM14 29h1v1h-1zM16 29h2v1h-2zM19 29h1v1h-1zM23 29h1v1h-1zM26 29h1v1h-1zM28 29h1v1h-1zM0 30h1v1h-1zM2 30h2v1h-2zM6 30h1v1h-1zM8 30h1v1h-1zM10 30h1v1h-1zM12 30h4v1h-4zM17 30h3v1h-3zM21 30h2v1h-2zM24 30h1v1h-1zM1 31h1v1h-1zM8 31h1v1h-1zM12 31h1v1h-1zM16 31h1v1h-1zM18 31h1v1h-1zM20 31h4v1h-4zM25 31h2v1h-2zM3 32h11v1h-11zM15 32h2v1h-2zM18 32h1v1h-1zM20 32h5v1h-5zM0 33h1v1h-1zM2 33h1v1h-1zM9 33h1v1h-1zM14 33h1v1h-1zM23 33h2v1h-2zM26 33h2v1h-2zM0 34h1v1h-1zM14 34h2v1h-2zM21 34h3v1h-3zM25 34h1v1h-1zM0 35h1v1h-1zM17 35h1v1h-1zM21 35h1v1h-1zM24 35h1v1h-1zM4 36h1v1h-1zM6 36h2v1h-2zM11 36h1v1h-1zM19 36h3v1h-3zM25 36h1v1h-1zM27 36h2v1h-2zM3 37h1v1h-1zM14 37h4v1h-4zM19 37h1v1h-1zM21 37h1v1h-1zM25 37h2v1h-2zM18 38h1v1h-1zM20 38h3v1h-3zM24 38h4v1h-4zM14 39h1v1h-1zM17 39h1v1h-1zM20 39h2v1h-2zM24 39h1v1h-1zM18 40h2v1h-2zM22 40h2v1h-2zM27 40h1v1h-1zM17 41h2v1h-2zM21 41h1v1h-1zM23 41h2v1h-2zM26 41h1v1h-1zM28 41h2v1h-2zM19 42h6v1h-6zM27 42h2v1h-2zM10 43h1v1h-1zM15 43h1v1h-1zM19 43h1v1h-1zM20 44h1v1h-1zM24 44h1v1h-1zM26 44h1v1h-1zM16 45h1v1h-1zM18 45h1v1h-1zM21 45h1v1h-1zM13 46h1v1h-1zM19 46h1v1h-1zM21 46h1v1h-1zM27 46h1v1h-1zM13 47h1v1h-1zM16 47h3v1h-3zM22 47h5v1h-5zM28 47h1v1h-1zM33 47h1v1h-1zM6 48h1v1h-1zM15 48h2v1h-2zM21 48h1v1h-1zM24 48h1v1h-1zM26 48h1v1h-1zM1 49h1v1h-1zM3 49h1v1h-1zM11 49h1v1h-1zM13 49h2v1h-2zM25 49h1v1h-1zM28 49h1v1h-1z"/>
<path fill="#f78500" d="M5 11h1v1h-1zM1 12h1v1h-1zM0 13h1v1h-1zM2 15h1v1h-1zM0 16h2v1h-2zM10 21h1v1h-1zM15 23h1v1h-1zM2 24h1v1h-1zM10 24h1v1h-1zM8 25h1v1h-1zM23 26h1v1h-1zM1 27h1v1h-1zM8 27h1v1h-1zM20 27h1v1h-1zM24 27h1v1h-1zM6 28h1v1h-1zM19 28h1v1h-1zM22 28h1v1h-1zM26 28h1v1h-1zM28 28h1v1h-1zM4 29h1v1h-1zM21 29h1v1h-1zM1 30h1v1h-1zM2 31h1v1h-1zM4 31h1v1h-1zM6 31h1v1h-1zM9 31h1v1h-1zM13 31h1v1h-1zM14 32h1v1h-1zM19 32h1v1h-1zM1 33h1v1h-1zM3 33h2v1h-2zM6 33h1v1h-1zM11 33h2v1h-2zM15 33h1v1h-1zM20 33h3v1h-3zM3 34h1v1h-1zM5 34h3v1h-3zM11 34h2v1h-2zM16 34h5v1h-5zM24 34h1v1h-1zM29 34h1v1h-1zM1 35h3v1h-3zM5 35h1v1h-1zM7 35h3v1h-3zM12 35h1v1h-1zM16 35h1v1h-1zM18 35h1v1h-1zM20 35h1v1h-1zM22 35h2v1h-2zM25 35h1v1h-1zM27 35h1v1h-1zM5 36h1v1h-1zM9 36h1v1h-1zM13 36h6v1h-6zM23 36h1v1h-1zM2 37h1v1h-1zM8 37h2v1h-2zM12 37h2v1h-2zM18 37h1v1h-1zM20 37h1v1h-1zM23 37h2v1h-2zM27 37h1v1h-1zM15 38h2v1h-2zM19 38h1v1h-1zM23 38h1v1h-1zM12 39h2v1h-2zM16 39h1v1h-1zM19 39h1v1h-1zM22 39h2v1h-2zM25 39h1v1h-1zM4 40h2v1h-2zM9 40h1v1h-1zM12 40h2v1h-2zM15 40h3v1h-3zM20 40h2v1h-2zM3 41h2v1h-2zM6 41h1v1h-1zM12 41h3v1h-3zM20 41h1v1h-1zM22 41h1v1h-1zM25 41h1v1h-1zM3 42h1v1h-1zM15 42h1v1h-1zM1 43h1v1h-1zM3 43h1v1h-1zM5 43h1v1h-1zM9 43h1v1h-1zM11 43h4v1h-4zM16 43h3v1h-3zM21 43h1v1h-1zM23 43h1v1h-1zM27 43h1v1h-1zM1 44h3v1h-3zM5 44h3v1h-3zM11 44h1v1h-1zM14 44h2v1h-2zM18 44h1v1h-1zM21 44h2v1h-2zM3 45h1v1h-1zM11 45h1v1h-1zM14 45h1v1h-1zM17 45h1v1h-1zM19 45h1v1h-1zM6 46h1v1h-1zM8 46h1v1h-1zM14 46h5v1h-5zM20 46h1v1h-1zM22 46h1v1h-1zM25 46h1v1h-1zM34 46h1v1h-1zM5 47h3v1h-3zM11 47h2v1h-2zM14 47h2v1h-2zM5 48h1v1h-1zM7 48h1v1h-1zM9 48h1v1h-1zM11 48h1v1h-1zM13 48h1v1h-1zM18 48h1v1h-1zM20 48h1v1h-1zM23 48h1v1h-1zM2 49h1v1h-1zM4 49h2v1h-2zM7 49h1v1h-1zM9 49h1v1h-1zM15 49h2v1h-2zM18 49h7v1h-7z"/>
<path fill="#f76200" d="M17 24h2v1h-2zM27 27h1v1h-1zM23 28h1v1h-1zM3 29h1v1h-1zM8 33h1v1h-1zM10 33h1v1h-1zM18 33h2v1h-2zM2 34h1v1h-1zM4 34h1v1h-1zM8 34h3v1h-3zM13 34h1v1h-1zM4 35h1v1h-1zM6 35h1v1h-1zM11 35h1v1h-1zM13 35h3v1h-3zM19 35h1v1h-1zM8 36h1v1h-1zM1 37h1v1h-1zM4 37h2v1h-2zM7 37h1v1h-1zM10 37h2v1h-2zM0 38h3v1h-3zM4 38h7v1h-7zM13 38h1v1h-1zM17 38h1v1h-1zM2 39h1v1h-1zM4 39h7v1h-7zM0 40h4v1h-4zM6 40h3v1h-3zM11 40h1v1h-1zM0 41h3v1h-3zM8 41h1v1h-1zM10 41h2v1h-2zM1 42h2v1h-2zM4 42h11v1h-11zM16 42h3v1h-3zM0 43h1v1h-1zM7 43h2v1h-2zM0 44h1v1h-1zM4 44h1v1h-1zM8 44h2v1h-2zM12 44h2v1h-2zM19 44h1v1h-1zM0 45h1v1h-1zM2 45h1v1h-1zM4 45h3v1h-3zM8 45h3v1h-3zM12 45h2v1h-2zM15 45h1v1h-1zM20 45h1v1h-1zM0 46h1v1h-1zM2 46h2v1h-2zM5 46h1v1h-1zM7 46h1v1h-1zM9 46h1v1h-1zM11 46h2v1h-2zM2 47h1v1h-1zM4 47h1v1h-1zM8 47h1v1h-1zM10 47h1v1h-1zM21 47h1v1h-1zM0 48h4v1h-4zM8 48h1v1h-1zM10 48h1v1h-1zM14 48h1v1h-1zM17 48h1v1h-1zM0 49h1v1h-1zM10 49h1v1h-1zM12 49h1v1h-1z"/>
<path fill="#f23a00" d="M11 31h1v1h-1zM17 33h1v1h-1zM1 34h1v1h-1zM10 35h1v1h-1zM0 36h1v1h-1zM3 36h1v1h-1zM10 36h1v1h-1zM0 37h1v1h-1zM6 37h1v1h-1zM14 38h1v1h-1zM3 39h1v1h-1zM11 39h1v1h-1zM18 39h1v1h-1zM10 40h1v1h-1zM14 40h1v1h-1zM5 41h1v1h-1zM7 41h1v1h-1zM0 42h1v1h-1zM2 43h1v1h-1zM4 43h1v1h-1zM6 43h1v1h-1zM10 44h1v1h-1zM7 45h1v1h-1zM1 46h1v1h-1zM4 46h1v1h-1zM10 46h1v1h-1zM0 47h2v1h-2zM4 48h1v1h-1zM12 48h1v1h-1zM19 48h1v1h-1zM6 49h1v1h-1z"/>
<path fill="#e4120a" d="M17 25h1v1h-1zM12 36h1v1h-1zM3 38h1v1h-1zM12 38h1v1h-1zM0 39h2v1h-2zM9 41h1v1h-1zM1 45h1v1h-1zM3 47h1v1h-1zM17 49h1v1h-1z"/>
</svg>
<svg x="1009.00" y="15.00" width="892.90" height="697.86" viewBox="0 0 63.8470 49.9185" preserveAspectRatio="none" shape-rendering="crispEdges">
<path fill="#00028c" d="M46 30h1v1h-1z"/>
<path fill="#0023be" d="M8 6h1v1h-1zM7 7h1v1h-1zM44 10h1v1h-1zM33 13h1v1h-1zM0 19h1v1h-1zM15 26h1v1h-1zM6 29h1v1h-1zM52 33h1v1h-1zM13 35h1v1h-1z"/>
<path fill="#0048d0" d="M54 3h1v1h-1zM1 19h1v1h-1zM10 21h1v1h-1zM7 23h1v1h-1zM7 24h1v1h-1zM32 24h1v1h-1zM4 28h1v1h-1zM13 28h1v1h-1zM5 29h1v1h-1zM7 29h2v1h-2zM13 33h1v1h-1zM58 33h1v1h-1zM1 35h1v1h-1zM7 37h1v1h-1zM9 37h1v1h-1zM20 38h1v1h-1zM1 39h2v1h-2zM19 40h1v1h-1zM26 40h1v1h-1zM28 41h1v1h-1zM0 42h2v1h-2zM51 42h1v1h-1zM11 45h1v1h-1zM33 46h1v1h-1zM5 49h1v1h-1z"/>
<path fill="#0069d5" d="M9 2h1v1h-1zM12 3h1v1h-1zM13 4h1v1h-1zM4 5h1v1h-1zM58 6h1v1h-1zM5 9h1v1h-1zM3 10h1v1h-1zM0 12h3v1h-3zM6 13h1v1h-1zM25 13h1v1h-1zM5 14h1v1h-1zM12 14h1v1h-1zM62 14h1v1h-1zM4 15h1v1h-1zM14 15h1v1h-1zM5 16h2v1h-2zM9 16h1v1h-1zM2 17h1v1h-1zM4 17h1v1h-1zM8 17h1v1h-1zM15 17h2v1h-2zM8 18h1v1h-1zM2 19h1v1h-1zM10 19h1v1h-1zM12 19h1v1h-1zM19 19h1v1h-1zM2 20h1v1h-1zM20 20h2v1h-2zM13 21h1v1h-1zM23 21h1v1h-1zM20 22h1v1h-1zM0 23h2v1h-2zM6 23h1v1h-1zM8 23h1v1h-1zM15 23h1v1h-1zM17 23h1v1h-1zM48 23h1v1h-1zM6 24h1v1h-1zM8 24h1v1h-1zM14 24h1v1h-1zM6 25h2v1h-2zM16 25h2v1h-2zM22 25h1v1h-1zM6 26h1v1h-1zM13 27h1v1h-1zM52 27h1v1h-1zM3 28h1v1h-1zM5 28h1v1h-1zM14 28h1v1h-1zM20 28h1v1h-1zM2 29h1v1h-1zM7 31h1v1h-1zM14 31h3v1h-3zM7 32h1v1h-1zM7 33h1v1h-1zM14 33h3v1h-3zM0 34h2v1h-2zM12 34h2v1h-2zM0 35h1v1h-1zM3 36h1v1h-1zM14 36h2v1h-2zM6 37h1v1h-1zM8 37h1v1h-1zM18 37h1v1h-1zM40 37h1v1h-1zM2 38h2v1h-2zM6 38h1v1h-1zM14 39h1v1h-1zM20 40h1v1h-1zM25 40h1v1h-1zM34 40h1v1h-1zM3 41h2v1h-2zM14 41h1v1h-1zM21 43h1v1h-1zM11 44h1v1h-1zM7 46h1v1h-1zM14 47h1v1h-1zM22 49h1v1h-1z"/>
<path fill="#008cd2" d="M6 2h1v1h-1zM13 3h1v1h-1zM3 5h1v1h-1zM60 5h1v1h-1zM7 6h1v1h-1zM41 6h1v1h-1zM3 7h1v1h-1zM0 8h4v1h-4zM2 9h1v1h-1zM4 9h1v1h-1zM6 9h1v1h-1zM28 9h1v1h-1zM0 10h3v1h-3zM17 10h2v1h-2zM20 10h1v1h-1zM24 10h1v1h-1zM13 11h1v1h-1zM17 11h1v1h-1zM9 12h1v1h-1zM20 12h1v1h-1zM23 12h1v1h-1zM13 13h2v1h-2zM24 13h1v1h-1zM28 13h1v1h-1zM44 13h1v1h-1zM16 14h1v1h-1zM18 15h1v1h-1zM2 16h2v1h-2zM8 16h1v1h-1zM23 16h1v1h-1zM13 17h2v1h-2zM17 17h2v1h-2zM2 18h2v1h-2zM10 18h3v1h-3zM16 18h2v1h-2zM3 19h1v1h-1zM8 19h2v1h-2zM11 19h1v1h-1zM23 19h1v1h-1zM26 19h1v1h-1zM57 19h1v1h-1zM0 20h2v1h-2zM5 20h1v1h-1zM11 20h1v1h-1zM19 20h1v1h-1zM22 20h2v1h-2zM21 21h2v1h-2zM9 22h2v1h-2zM16 22h2v1h-2zM19 22h1v1h-1zM2 23h1v1h-1zM14 23h1v1h-1zM18 23h1v1h-1zM22 23h1v1h-1zM46 23h1v1h-1zM13 24h1v1h-1zM15 24h1v1h-1zM25 24h1v1h-1zM4 25h1v1h-1zM14 25h1v1h-1zM21 25h1v1h-1zM23 25h1v1h-1zM34 25h2v1h-2zM0 26h2v1h-2zM4 26h1v1h-1zM8 26h1v1h-1zM13 26h2v1h-2zM3 27h3v1h-3zM14 27h1v1h-1zM16 27h1v1h-1zM22 27h1v1h-1zM27 27h1v1h-1zM22 28h1v1h-1zM0 29h2v1h-2zM10 29h1v1h-1zM15 29h2v1h-2zM5 30h2v1h-2zM16 30h1v1h-1zM23 30h1v1h-1zM2 31h3v1h-3zM6 31h1v1h-1zM8 31h1v1h-1zM3 32h1v1h-1zM17 32h1v1h-1zM8 33h1v1h-1zM12 33h1v1h-1zM20 33h1v1h-1zM51 33h1v1h-1zM3 34h2v1h-2zM7 34h2v1h-2zM14 34h1v1h-1zM24 34h1v1h-1zM2 35h2v1h-2zM7 35h1v1h-1zM14 35h2v1h-2zM20 35h1v1h-1zM10 36h1v1h-1zM16 36h1v1h-1zM29 36h1v1h-1zM0 37h2v1h-2zM11 37h1v1h-1zM19 37h1v1h-1zM35 37h1v1h-1zM10 38h1v1h-1zM17 38h1v1h-1zM0 39h1v1h-1zM3 39h1v1h-1zM12 39h2v1h-2zM51 39h1v1h-1zM0 40h2v1h-2zM3 40h1v1h-1zM6 40h1v1h-1zM15 40h1v1h-1zM18 40h1v1h-1zM13 41h1v1h-1zM15 41h2v1h-2zM24 41h1v1h-1zM53 41h1v1h-1zM5 42h1v1h-1zM20 42h1v1h-1zM3 43h1v1h-1zM9 43h2v1h-2zM20 43h1v1h-1zM25 43h1v1h-1zM29 43h1v1h-1zM59 43h1v1h-1zM10 44h1v1h-1zM21 44h1v1h-1zM24 44h1v1h-1zM28 44h1v1h-1zM31 44h1v1h-1zM12 45h1v1h-1zM24 45h3v1h-3zM42 45h4v1h-4zM6 46h1v1h-1zM14 46h1v1h-1zM34 46h1v1h-1zM40 46h1v1h-1zM46 46h1v1h-1zM0 47h2v1h-2zM5 47h3v1h-3zM44 47h1v1h-1zM22 48h1v1h-1zM41 48h1v1h-1zM4 49h1v1h-1zM13 49h1v1h-1zM17 49h1v1h-1zM43 49h2v1h-2z"/>
<path fill="#00acc8" d="M12 0h1v1h-1zM15 0h2v1h-2zM16 2h2v1h-2zM25 2h1v1h-1zM23 3h1v1h-1zM53 3h1v1h-1zM5 4h2v1h-2zM8 4h1v1h-1zM21 4h1v1h-1zM7 5h1v1h-1zM9 5h1v1h-1zM12 5h2v1h-2zM55 5h1v1h-1zM5 6h2v1h-2zM9 6h1v1h-1zM0 7h3v1h-3zM4 7h3v1h-3zM4 8h1v1h-1zM8 8h2v1h-2zM16 8h1v1h-1zM22 8h1v1h-1zM0 9h2v1h-2zM3 9h1v1h-1zM7 9h1v1h-1zM11 9h2v1h-2zM19 9h2v1h-2zM26 9h1v1h-1zM4 10h1v1h-1zM11 10h3v1h-3zM16 10h1v1h-1zM19 10h1v1h-1zM2 11h2v1h-2zM6 11h2v1h-2zM12 11h1v1h-1zM14 11h1v1h-1zM16 11h1v1h-1zM3 12h1v1h-1zM6 12h3v1h-3zM10 12h2v1h-2zM13 12h5v1h-5zM19 12h1v1h-1zM3 13h3v1h-3zM7 13h6v1h-6zM19 13h1v1h-1zM27 13h1v1h-1zM45 13h1v1h-1zM2 14h1v1h-1zM4 14h1v1h-1zM8 14h1v1h-1zM13 14h1v1h-1zM15 14h1v1h-1zM20 14h3v1h-3zM63 14h1v1h-1zM0 15h1v1h-1zM3 15h1v1h-1zM5 15h1v1h-1zM9 15h3v1h-3zM13 15h1v1h-1zM15 15h1v1h-1zM20 15h3v1h-3zM25 15h1v1h-1zM0 16h2v1h-2zM4 16h1v1h-1zM7 16h1v1h-1zM12 16h5v1h-5zM19 16h2v1h-2zM24 16h1v1h-1zM26 16h1v1h-1zM0 17h2v1h-2zM3 17h1v1h-1zM5 17h1v1h-1zM9 17h2v1h-2zM22 17h1v1h-1zM50 17h1v1h-1zM0 18h2v1h-2zM5 18h1v1h-1zM7 18h1v1h-1zM9 18h1v1h-1zM13 18h1v1h-1zM18 18h3v1h-3zM23 18h1v1h-1zM26 18h1v1h-1zM4 19h3v1h-3zM13 19h1v1h-1zM15 19h3v1h-3zM20 19h1v1h-1zM22 19h1v1h-1zM3 20h2v1h-2zM6 20h1v1h-1zM8 20h1v1h-1zM17 20h2v1h-2zM24 20h1v1h-1zM9 21h1v1h-1zM11 21h2v1h-2zM14 21h1v1h-1zM16 21h2v1h-2zM20 21h1v1h-1zM24 21h1v1h-1zM26 21h2v1h-2zM53 21h1v1h-1zM0 22h3v1h-3zM8 22h1v1h-1zM11 22h2v1h-2zM21 22h1v1h-1zM26 22h1v1h-1zM5 23h1v1h-1zM20 23h1v1h-1zM23 23h1v1h-1zM25 23h2v1h-2zM30 23h1v1h-1zM33 23h1v1h-1zM38 23h1v1h-1zM9 24h1v1h-1zM16 24h2v1h-2zM21 24h1v1h-1zM24 24h1v1h-1zM2 25h1v1h-1zM5 25h1v1h-1zM8 25h1v1h-1zM10 25h1v1h-1zM12 25h2v1h-2zM18 25h1v1h-1zM27 25h1v1h-1zM62 25h1v1h-1zM5 26h1v1h-1zM7 26h1v1h-1zM9 26h1v1h-1zM12 26h1v1h-1zM16 26h1v1h-1zM20 26h3v1h-3zM28 26h1v1h-1zM35 26h1v1h-1zM2 27h1v1h-1zM11 27h2v1h-2zM15 27h1v1h-1zM17 27h1v1h-1zM30 27h2v1h-2zM46 27h1v1h-1zM0 28h3v1h-3zM8 28h1v1h-1zM10 28h1v1h-1zM15 28h1v1h-1zM21 28h1v1h-1zM23 28h1v1h-1zM25 28h1v1h-1zM51 28h1v1h-1zM3 29h2v1h-2zM9 29h1v1h-1zM11 29h1v1h-1zM13 29h2v1h-2zM17 29h1v1h-1zM20 29h3v1h-3zM24 29h1v1h-1zM10 30h2v1h-2zM15 30h1v1h-1zM20 30h2v1h-2zM24 30h1v1h-1zM26 30h1v1h-1zM47 30h1v1h-1zM0 31h2v1h-2zM5 31h1v1h-1zM9 31h1v1h-1zM11 31h3v1h-3zM17 31h2v1h-2zM23 31h2v1h-2zM0 32h3v1h-3zM8 32h1v1h-1zM11 32h2v1h-2zM16 32h1v1h-1zM20 32h2v1h-2zM0 33h5v1h-5zM17 33h3v1h-3zM21 33h2v1h-2zM25 33h1v1h-1zM2 34h1v1h-1zM11 34h1v1h-1zM17 34h5v1h-5zM4 35h3v1h-3zM9 35h1v1h-1zM12 35h1v1h-1zM16 35h2v1h-2zM21 35h2v1h-2zM24 35h1v1h-1zM2 36h1v1h-1zM13 36h1v1h-1zM17 36h6v1h-6zM28 36h1v1h-1zM5 37h1v1h-1zM10 37h1v1h-1zM12 37h1v1h-1zM17 37h1v1h-1zM24 37h1v1h-1zM4 38h2v1h-2zM7 38h1v1h-1zM14 38h3v1h-3zM21 38h1v1h-1zM23 38h1v1h-1zM53 38h2v1h-2zM7 39h1v1h-1zM10 39h2v1h-2zM19 39h1v1h-1zM22 39h2v1h-2zM25 39h1v1h-1zM33 39h1v1h-1zM52 39h1v1h-1zM2 40h1v1h-1zM7 40h1v1h-1zM16 40h2v1h-2zM21 40h1v1h-1zM24 40h1v1h-1zM50 40h1v1h-1zM0 41h3v1h-3zM5 41h3v1h-3zM12 41h1v1h-1zM27 41h1v1h-1zM29 41h1v1h-1zM2 42h1v1h-1zM4 42h1v1h-1zM6 42h1v1h-1zM37 42h2v1h-2zM46 42h1v1h-1zM52 42h1v1h-1zM0 43h1v1h-1zM2 43h1v1h-1zM4 43h1v1h-1zM11 43h1v1h-1zM15 43h2v1h-2zM22 43h1v1h-1zM26 43h1v1h-1zM35 43h1v1h-1zM43 43h1v1h-1zM48 43h2v1h-2zM53 43h1v1h-1zM4 44h4v1h-4zM22 44h2v1h-2zM27 44h1v1h-1zM29 44h1v1h-1zM40 44h1v1h-1zM0 45h4v1h-4zM6 45h2v1h-2zM10 45h1v1h-1zM13 45h3v1h-3zM20 45h1v1h-1zM23 45h1v1h-1zM27 45h2v1h-2zM36 45h1v1h-1zM39 45h3v1h-3zM13 46h1v1h-1zM15 46h1v1h-1zM19 46h1v1h-1zM21 46h1v1h-1zM28 46h2v1h-2zM32 46h1v1h-1zM45 46h1v1h-1zM4 47h1v1h-1zM12 47h1v1h-1zM21 47h2v1h-2zM39 47h1v1h-1zM45 47h2v1h-2zM4 48h1v1h-1zM11 48h1v1h-1zM38 48h1v1h-1zM45 48h1v1h-1zM0 49h3v1h-3zM6 49h3v1h-3zM11 49h2v1h-2zM14 49h2v1h-2zM18 49h2v1h-2zM21 49h1v1h-1zM23 49h1v1h-1zM39 49h1v1h-1zM42 49h1v1h-1zM45 49h1v1h-1zM49 49h1v1h-1z"/>
<path fill="#00c4ac" d="M7 0h3v1h-3zM11 0h1v1h-1zM13 0h2v1h-2zM17 0h1v1h-1zM4 1h4v1h-4zM11 1h2v1h-2zM26 1h1v1h-1zM32 1h1v1h-1zM5 2h1v1h-1zM5 3h5v1h-5zM16 3h2v1h-2zM22 3h1v1h-1zM39 3h1v1h-1zM44 3h1v1h-1zM2 4h2v1h-2zM9 4h2v1h-2zM12 4h1v1h-1zM14 4h1v1h-1zM20 4h1v1h-1zM2 5h1v1h-1zM8 5h1v1h-1zM11 5h1v1h-1zM14 5h1v1h-1zM21 5h1v1h-1zM0 6h5v1h-5zM10 6h1v1h-1zM14 6h3v1h-3zM21 6h3v1h-3zM40 6h1v1h-1zM8 7h1v1h-1zM11 7h1v1h-1zM15 7h1v1h-1zM20 7h2v1h-2zM35 7h1v1h-1zM58 7h1v1h-1zM7 8h1v1h-1zM12 8h2v1h-2zM15 8h1v1h-1zM19 8h1v1h-1zM33 8h1v1h-1zM8 9h2v1h-2zM17 9h2v1h-2zM21 9h3v1h-3zM27 9h1v1h-1zM9 10h2v1h-2zM14 10h1v1h-1zM23 10h1v1h-1zM25 10h1v1h-1zM0 11h2v1h-2zM5 11h1v1h-1zM8 11h3v1h-3zM19 11h2v1h-2zM23 11h1v1h-1zM12 12h1v1h-1zM18 12h1v1h-1zM25 12h1v1h-1zM40 12h1v1h-1zM2 13h1v1h-1zM16 13h2v1h-2zM20 13h1v1h-1zM29 13h1v1h-1zM3 14h1v1h-1zM6 14h2v1h-2zM9 14h1v1h-1zM11 14h1v1h-1zM14 14h1v1h-1zM17 14h3v1h-3zM24 14h1v1h-1zM1 15h1v1h-1zM6 15h1v1h-1zM8 15h1v1h-1zM12 15h1v1h-1zM19 15h1v1h-1zM10 16h2v1h-2zM17 16h1v1h-1zM28 16h1v1h-1zM6 17h2v1h-2zM12 17h1v1h-1zM19 17h2v1h-2zM27 17h1v1h-1zM34 17h1v1h-1zM4 18h1v1h-1zM6 18h1v1h-1zM14 18h1v1h-1zM24 18h2v1h-2zM47 18h1v1h-1zM7 19h1v1h-1zM14 19h1v1h-1zM18 19h1v1h-1zM10 20h1v1h-1zM25 20h1v1h-1zM30 20h1v1h-1zM33 20h1v1h-1zM2 21h5v1h-5zM15 21h1v1h-1zM18 21h2v1h-2zM25 21h1v1h-1zM4 22h1v1h-1zM7 22h1v1h-1zM18 22h1v1h-1zM22 22h1v1h-1zM25 22h1v1h-1zM29 22h1v1h-1zM3 23h2v1h-2zM9 23h1v1h-1zM12 23h1v1h-1zM16 23h1v1h-1zM24 23h1v1h-1zM31 23h1v1h-1zM58 23h1v1h-1zM3 24h2v1h-2zM12 24h1v1h-1zM18 24h3v1h-3zM22 24h2v1h-2zM26 24h4v1h-4zM0 25h2v1h-2zM3 25h1v1h-1zM9 25h1v1h-1zM11 25h1v1h-1zM15 25h1v1h-1zM20 25h1v1h-1zM28 25h1v1h-1zM60 25h1v1h-1zM2 26h2v1h-2zM19 26h1v1h-1zM23 26h2v1h-2zM29 26h1v1h-1zM0 27h2v1h-2zM6 27h4v1h-4zM18 27h2v1h-2zM21 27h1v1h-1zM25 27h2v1h-2zM28 27h1v1h-1zM6 28h2v1h-2zM9 28h1v1h-1zM11 28h2v1h-2zM16 28h4v1h-4zM24 28h1v1h-1zM29 28h1v1h-1zM12 29h1v1h-1zM18 29h2v1h-2zM23 29h1v1h-1zM25 29h1v1h-1zM4 30h1v1h-1zM8 30h1v1h-1zM12 30h1v1h-1zM17 30h1v1h-1zM19 30h1v1h-1zM22 30h1v1h-1zM27 30h1v1h-1zM10 31h1v1h-1zM19 31h4v1h-4zM32 31h1v1h-1zM4 32h1v1h-1zM19 32h1v1h-1zM22 32h2v1h-2zM59 32h1v1h-1zM6 33h1v1h-1zM10 33h2v1h-2zM26 33h1v1h-1zM6 34h1v1h-1zM9 34h1v1h-1zM16 34h1v1h-1zM23 34h1v1h-1zM26 34h1v1h-1zM30 34h1v1h-1zM18 35h2v1h-2zM23 35h1v1h-1zM25 35h1v1h-1zM41 35h1v1h-1zM45 35h1v1h-1zM1 36h1v1h-1zM4 36h2v1h-2zM7 36h3v1h-3zM30 36h1v1h-1zM4 37h1v1h-1zM13 37h1v1h-1zM15 37h1v1h-1zM20 37h2v1h-2zM27 37h2v1h-2zM34 37h1v1h-1zM1 38h1v1h-1zM11 38h1v1h-1zM13 38h1v1h-1zM18 38h2v1h-2zM25 38h1v1h-1zM31 38h3v1h-3zM4 39h1v1h-1zM8 39h2v1h-2zM15 39h1v1h-1zM18 39h1v1h-1zM24 39h1v1h-1zM26 39h1v1h-1zM4 40h1v1h-1zM10 40h2v1h-2zM14 40h1v1h-1zM23 40h1v1h-1zM27 40h1v1h-1zM29 40h3v1h-3zM45 40h1v1h-1zM49 40h1v1h-1zM56 40h1v1h-1zM8 41h1v1h-1zM11 41h1v1h-1zM17 41h1v1h-1zM21 41h3v1h-3zM25 41h1v1h-1zM33 41h1v1h-1zM38 41h1v1h-1zM41 41h1v1h-1zM48 41h1v1h-1zM7 42h11v1h-11zM23 42h1v1h-1zM25 42h1v1h-1zM28 42h2v1h-2zM31 42h1v1h-1zM33 42h1v1h-1zM36 42h1v1h-1zM43 42h1v1h-1zM53 42h1v1h-1zM1 43h1v1h-1zM12 43h3v1h-3zM17 43h1v1h-1zM30 43h2v1h-2zM34 43h1v1h-1zM40 43h1v1h-1zM44 43h1v1h-1zM47 43h1v1h-1zM51 43h1v1h-1zM8 44h2v1h-2zM14 44h3v1h-3zM19 44h1v1h-1zM30 44h1v1h-1zM41 44h2v1h-2zM4 45h2v1h-2zM8 45h2v1h-2zM16 45h4v1h-4zM21 45h1v1h-1zM29 45h1v1h-1zM37 45h2v1h-2zM58 45h1v1h-1zM0 46h3v1h-3zM5 46h1v1h-1zM12 46h1v1h-1zM16 46h1v1h-1zM18 46h1v1h-1zM20 46h1v1h-1zM22 46h1v1h-1zM24 46h1v1h-1zM30 46h1v1h-1zM35 46h1v1h-1zM41 46h1v1h-1zM47 46h1v1h-1zM2 47h2v1h-2zM13 47h1v1h-1zM15 47h1v1h-1zM19 47h1v1h-1zM28 47h2v1h-2zM31 47h3v1h-3zM38 47h1v1h-1zM0 48h4v1h-4zM5 48h6v1h-6zM12 48h1v1h-1zM20 48h1v1h-1zM28 48h2v1h-2zM33 48h2v1h-2zM39 48h1v1h-1zM3 49h1v1h-1zM9 49h2v1h-2zM16 49h1v1h-1zM20 49h1v1h-1zM25 49h1v1h-1zM28 49h1v1h-1zM41 49h1v1h-1zM59 49h1v1h-1z"/>
<path fill="#00d276" d="M5 0h1v1h-1zM10 0h1v1h-1zM18 0h1v1h-1zM24 0h3v1h-3zM50 0h1v1h-1zM8 1h2v1h-2zM13 1h3v1h-3zM45 1h2v1h-2zM8 2h1v1h-1zM10 2h2v1h-2zM14 2h2v1h-2zM18 2h1v1h-1zM37 2h1v1h-1zM40 2h1v1h-1zM43 2h1v1h-1zM10 3h2v1h-2zM18 3h1v1h-1zM21 3h1v1h-1zM24 3h2v1h-2zM31 3h1v1h-1zM43 3h1v1h-1zM4 4h1v1h-1zM7 4h1v1h-1zM11 4h1v1h-1zM18 4h2v1h-2zM27 4h1v1h-1zM37 4h2v1h-2zM5 5h1v1h-1zM10 5h1v1h-1zM17 5h1v1h-1zM26 5h2v1h-2zM53 5h2v1h-2zM61 5h1v1h-1zM12 6h1v1h-1zM17 6h1v1h-1zM24 6h1v1h-1zM44 6h1v1h-1zM48 6h1v1h-1zM10 7h1v1h-1zM12 7h1v1h-1zM16 7h2v1h-2zM22 7h1v1h-1zM28 7h1v1h-1zM30 7h1v1h-1zM5 8h2v1h-2zM10 8h1v1h-1zM14 8h1v1h-1zM17 8h2v1h-2zM23 8h1v1h-1zM26 8h2v1h-2zM32 8h1v1h-1zM37 8h1v1h-1zM10 9h1v1h-1zM13 9h4v1h-4zM24 9h1v1h-1zM32 9h2v1h-2zM37 9h4v1h-4zM5 10h3v1h-3zM15 10h1v1h-1zM33 10h2v1h-2zM37 10h2v1h-2zM4 11h1v1h-1zM11 11h1v1h-1zM15 11h1v1h-1zM18 11h1v1h-1zM21 11h2v1h-2zM24 11h3v1h-3zM29 11h2v1h-2zM4 12h2v1h-2zM21 12h2v1h-2zM24 12h1v1h-1zM26 12h3v1h-3zM31 12h1v1h-1zM34 12h1v1h-1zM41 12h1v1h-1zM49 12h2v1h-2zM57 12h1v1h-1zM0 13h2v1h-2zM15 13h1v1h-1zM18 13h1v1h-1zM21 13h1v1h-1zM23 13h1v1h-1zM32 13h1v1h-1zM39 13h1v1h-1zM0 14h2v1h-2zM23 14h1v1h-1zM25 14h1v1h-1zM2 15h1v1h-1zM16 15h2v1h-2zM24 15h1v1h-1zM26 15h2v1h-2zM29 15h3v1h-3zM53 15h1v1h-1zM56 15h1v1h-1zM18 16h1v1h-1zM21 16h2v1h-2zM25 16h1v1h-1zM29 16h1v1h-1zM31 16h3v1h-3zM44 16h1v1h-1zM11 17h1v1h-1zM21 17h1v1h-1zM23 17h1v1h-1zM25 17h2v1h-2zM31 17h1v1h-1zM33 17h1v1h-1zM36 17h1v1h-1zM43 17h1v1h-1zM62 17h2v1h-2zM15 18h1v1h-1zM22 18h1v1h-1zM27 18h2v1h-2zM60 18h2v1h-2zM21 19h1v1h-1zM24 19h2v1h-2zM27 19h1v1h-1zM29 19h3v1h-3zM38 19h1v1h-1zM56 19h1v1h-1zM7 20h1v1h-1zM9 20h1v1h-1zM12 20h5v1h-5zM26 20h2v1h-2zM31 20h1v1h-1zM40 20h2v1h-2zM55 20h1v1h-1zM0 21h2v1h-2zM7 21h2v1h-2zM28 21h1v1h-1zM30 21h2v1h-2zM38 21h1v1h-1zM48 21h1v1h-1zM52 21h1v1h-1zM3 22h1v1h-1zM13 22h3v1h-3zM23 22h2v1h-2zM27 22h1v1h-1zM30 22h1v1h-1zM39 22h1v1h-1zM10 23h2v1h-2zM13 23h1v1h-1zM19 23h1v1h-1zM21 23h1v1h-1zM27 23h1v1h-1zM29 23h1v1h-1zM32 23h1v1h-1zM36 23h1v1h-1zM41 23h1v1h-1zM45 23h1v1h-1zM50 23h1v1h-1zM0 24h3v1h-3zM5 24h1v1h-1zM10 24h2v1h-2zM30 24h1v1h-1zM46 24h1v1h-1zM19 25h1v1h-1zM29 25h1v1h-1zM31 25h1v1h-1zM54 25h2v1h-2zM10 26h2v1h-2zM17 26h2v1h-2zM26 26h2v1h-2zM30 26h2v1h-2zM34 26h1v1h-1zM47 26h1v1h-1zM56 26h1v1h-1zM10 27h1v1h-1zM20 27h1v1h-1zM23 27h2v1h-2zM29 27h1v1h-1zM59 27h1v1h-1zM26 28h1v1h-1zM28 28h1v1h-1zM33 28h1v1h-1zM26 29h1v1h-1zM28 29h2v1h-2zM50 29h1v1h-1zM2 30h2v1h-2zM7 30h1v1h-1zM9 30h1v1h-1zM14 30h1v1h-1zM18 30h1v1h-1zM25 30h1v1h-1zM53 30h2v1h-2zM28 31h1v1h-1zM6 32h1v1h-1zM9 32h2v1h-2zM13 32h3v1h-3zM24 32h3v1h-3zM29 32h1v1h-1zM5 33h1v1h-1zM9 33h1v1h-1zM24 33h1v1h-1zM27 33h5v1h-5zM5 34h1v1h-1zM10 34h1v1h-1zM15 34h1v1h-1zM25 34h1v1h-1zM29 34h1v1h-1zM40 34h1v1h-1zM58 34h1v1h-1zM8 35h1v1h-1zM10 35h1v1h-1zM0 36h1v1h-1zM6 36h1v1h-1zM11 36h2v1h-2zM57 36h2v1h-2zM61 36h1v1h-1zM2 37h2v1h-2zM14 37h1v1h-1zM16 37h1v1h-1zM22 37h2v1h-2zM25 37h1v1h-1zM39 37h1v1h-1zM0 38h1v1h-1zM8 38h2v1h-2zM12 38h1v1h-1zM24 38h1v1h-1zM26 38h1v1h-1zM28 38h1v1h-1zM30 38h1v1h-1zM38 38h1v1h-1zM44 38h1v1h-1zM50 38h1v1h-1zM5 39h2v1h-2zM16 39h2v1h-2zM20 39h2v1h-2zM27 39h1v1h-1zM30 39h1v1h-1zM32 39h1v1h-1zM34 39h2v1h-2zM40 39h1v1h-1zM44 39h1v1h-1zM56 39h1v1h-1zM59 39h1v1h-1zM5 40h1v1h-1zM8 40h2v1h-2zM13 40h1v1h-1zM22 40h1v1h-1zM28 40h1v1h-1zM33 40h1v1h-1zM35 40h1v1h-1zM40 40h2v1h-2zM46 40h1v1h-1zM51 40h1v1h-1zM18 41h3v1h-3zM30 41h1v1h-1zM34 41h1v1h-1zM37 41h1v1h-1zM39 41h2v1h-2zM42 41h1v1h-1zM46 41h2v1h-2zM49 41h2v1h-2zM54 41h1v1h-1zM63 41h1v1h-1zM3 42h1v1h-1zM26 42h2v1h-2zM32 42h1v1h-1zM34 42h2v1h-2zM39 42h1v1h-1zM42 42h1v1h-1zM47 42h1v1h-1zM59 42h1v1h-1zM8 43h1v1h-1zM19 43h1v1h-1zM24 43h1v1h-1zM28 43h1v1h-1zM32 43h2v1h-2zM36 43h2v1h-2zM41 43h2v1h-2zM46 43h1v1h-1zM52 43h1v1h-1zM2 44h2v1h-2zM13 44h1v1h-1zM20 44h1v1h-1zM25 44h2v1h-2zM33 44h1v1h-1zM37 44h1v1h-1zM39 44h1v1h-1zM46 44h1v1h-1zM48 44h1v1h-1zM51 44h1v1h-1zM58 44h1v1h-1zM22 45h1v1h-1zM34 45h2v1h-2zM46 45h1v1h-1zM54 45h1v1h-1zM57 45h1v1h-1zM60 45h1v1h-1zM3 46h2v1h-2zM8 46h1v1h-1zM10 46h2v1h-2zM17 46h1v1h-1zM23 46h1v1h-1zM25 46h2v1h-2zM31 46h1v1h-1zM36 46h1v1h-1zM42 46h3v1h-3zM48 46h1v1h-1zM52 46h1v1h-1zM62 46h2v1h-2zM8 47h4v1h-4zM16 47h1v1h-1zM18 47h1v1h-1zM20 47h1v1h-1zM27 47h1v1h-1zM30 47h1v1h-1zM34 47h2v1h-2zM40 47h2v1h-2zM43 47h1v1h-1zM13 48h1v1h-1zM17 48h1v1h-1zM19 48h1v1h-1zM21 48h1v1h-1zM23 48h2v1h-2zM26 48h2v1h-2zM30 48h3v1h-3zM35 48h1v1h-1zM37 48h1v1h-1zM40 48h1v1h-1zM42 48h1v1h-1zM44 48h1v1h-1zM48 48h2v1h-2zM24 49h1v1h-1zM26 49h2v1h-2zM29 49h1v1h-1zM31 49h1v1h-1zM33 49h3v1h-3zM37 49h2v1h-2zM48 49h1v1h-1zM50 49h1v1h-1zM52 49h2v1h-2zM57 49h2v1h-2z"/>
<path fill="#19d22d" d="M6 0h1v1h-1zM22 0h2v1h-2zM27 0h1v1h-1zM10 1h1v1h-1zM16 1h2v1h-2zM22 1h1v1h-1zM25 1h1v1h-1zM27 1h1v1h-1zM31 1h1v1h-1zM33 1h2v1h-2zM52 1h1v1h-1zM12 2h2v1h-2zM35 2h2v1h-2zM38 2h2v1h-2zM41 2h2v1h-2zM63 2h1v1h-1zM0 3h3v1h-3zM14 3h2v1h-2zM19 3h1v1h-1zM26 3h1v1h-1zM28 3h2v1h-2zM35 3h2v1h-2zM40 3h2v1h-2zM45 3h1v1h-1zM0 4h2v1h-2zM15 4h1v1h-1zM17 4h1v1h-1zM22 4h1v1h-1zM24 4h1v1h-1zM30 4h1v1h-1zM39 4h1v1h-1zM47 4h2v1h-2zM54 4h1v1h-1zM0 5h2v1h-2zM6 5h1v1h-1zM15 5h2v1h-2zM20 5h1v1h-1zM22 5h1v1h-1zM25 5h1v1h-1zM28 5h1v1h-1zM33 5h1v1h-1zM36 5h2v1h-2zM42 5h1v1h-1zM44 5h1v1h-1zM56 5h1v1h-1zM11 6h1v1h-1zM13 6h1v1h-1zM18 6h1v1h-1zM25 6h1v1h-1zM27 6h2v1h-2zM33 6h1v1h-1zM36 6h1v1h-1zM52 6h1v1h-1zM19 7h1v1h-1zM27 7h1v1h-1zM29 7h1v1h-1zM33 7h2v1h-2zM36 7h1v1h-1zM44 7h1v1h-1zM11 8h1v1h-1zM20 8h2v1h-2zM24 8h2v1h-2zM28 8h2v1h-2zM34 8h3v1h-3zM38 8h1v1h-1zM25 9h1v1h-1zM29 9h1v1h-1zM31 9h1v1h-1zM41 9h1v1h-1zM44 9h1v1h-1zM50 9h1v1h-1zM55 9h1v1h-1zM8 10h1v1h-1zM21 10h2v1h-2zM26 10h1v1h-1zM35 10h1v1h-1zM41 10h1v1h-1zM45 10h2v1h-2zM53 10h1v1h-1zM59 10h1v1h-1zM32 11h1v1h-1zM54 11h1v1h-1zM56 11h1v1h-1zM30 12h1v1h-1zM32 12h2v1h-2zM44 12h1v1h-1zM48 12h1v1h-1zM51 12h1v1h-1zM60 12h1v1h-1zM22 13h1v1h-1zM26 13h1v1h-1zM30 13h2v1h-2zM34 13h1v1h-1zM38 13h1v1h-1zM42 13h1v1h-1zM46 13h1v1h-1zM50 13h1v1h-1zM55 13h2v1h-2zM10 14h1v1h-1zM26 14h1v1h-1zM31 14h3v1h-3zM53 14h2v1h-2zM56 14h1v1h-1zM7 15h1v1h-1zM23 15h1v1h-1zM28 15h1v1h-1zM32 15h2v1h-2zM44 15h1v1h-1zM50 15h1v1h-1zM55 15h1v1h-1zM60 15h1v1h-1zM27 16h1v1h-1zM30 16h1v1h-1zM34 16h1v1h-1zM43 16h1v1h-1zM47 16h2v1h-2zM56 16h1v1h-1zM24 17h1v1h-1zM28 17h1v1h-1zM32 17h1v1h-1zM37 17h1v1h-1zM42 17h1v1h-1zM52 17h1v1h-1zM21 18h1v1h-1zM31 18h1v1h-1zM33 18h1v1h-1zM46 18h1v1h-1zM59 18h1v1h-1zM28 19h1v1h-1zM36 19h1v1h-1zM39 19h1v1h-1zM42 19h1v1h-1zM46 19h1v1h-1zM60 19h1v1h-1zM28 20h2v1h-2zM32 20h1v1h-1zM34 20h1v1h-1zM45 20h1v1h-1zM50 20h1v1h-1zM58 20h1v1h-1zM62 20h2v1h-2zM29 21h1v1h-1zM32 21h2v1h-2zM43 21h2v1h-2zM54 21h1v1h-1zM5 22h2v1h-2zM28 22h1v1h-1zM32 22h2v1h-2zM38 22h1v1h-1zM40 22h1v1h-1zM28 23h1v1h-1zM37 23h1v1h-1zM40 23h1v1h-1zM49 23h1v1h-1zM51 23h1v1h-1zM59 23h1v1h-1zM63 23h1v1h-1zM31 24h1v1h-1zM33 24h1v1h-1zM35 24h1v1h-1zM38 24h1v1h-1zM49 24h1v1h-1zM54 24h2v1h-2zM58 24h1v1h-1zM24 25h3v1h-3zM30 25h1v1h-1zM32 25h2v1h-2zM58 25h1v1h-1zM63 25h1v1h-1zM25 26h1v1h-1zM62 26h2v1h-2zM48 27h1v1h-1zM51 27h1v1h-1zM62 27h1v1h-1zM27 28h1v1h-1zM30 28h1v1h-1zM34 28h1v1h-1zM55 28h1v1h-1zM58 28h2v1h-2zM27 29h1v1h-1zM30 29h1v1h-1zM47 29h1v1h-1zM57 29h2v1h-2zM60 29h1v1h-1zM0 30h2v1h-2zM13 30h1v1h-1zM28 30h2v1h-2zM31 30h2v1h-2zM55 30h2v1h-2zM25 31h3v1h-3zM29 31h3v1h-3zM33 31h1v1h-1zM52 31h2v1h-2zM5 32h1v1h-1zM18 32h1v1h-1zM32 32h1v1h-1zM61 32h1v1h-1zM23 33h1v1h-1zM32 33h1v1h-1zM63 33h1v1h-1zM22 34h1v1h-1zM27 34h2v1h-2zM39 34h1v1h-1zM63 34h1v1h-1zM11 35h1v1h-1zM26 35h2v1h-2zM29 35h1v1h-1zM42 35h1v1h-1zM46 35h1v1h-1zM57 35h1v1h-1zM24 36h4v1h-4zM55 36h2v1h-2zM26 37h1v1h-1zM29 37h4v1h-4zM41 37h1v1h-1zM45 37h3v1h-3zM49 37h1v1h-1zM61 37h1v1h-1zM22 38h1v1h-1zM27 38h1v1h-1zM29 38h1v1h-1zM34 38h3v1h-3zM39 38h2v1h-2zM55 38h1v1h-1zM58 38h2v1h-2zM28 39h2v1h-2zM36 39h2v1h-2zM39 39h1v1h-1zM41 39h3v1h-3zM45 39h2v1h-2zM49 39h2v1h-2zM54 39h2v1h-2zM58 39h1v1h-1zM61 39h2v1h-2zM12 40h1v1h-1zM32 40h1v1h-1zM38 40h2v1h-2zM42 40h1v1h-1zM47 40h1v1h-1zM52 40h1v1h-1zM57 40h1v1h-1zM9 41h2v1h-2zM26 41h1v1h-1zM31 41h1v1h-1zM36 41h1v1h-1zM62 41h1v1h-1zM18 42h2v1h-2zM21 42h2v1h-2zM24 42h1v1h-1zM30 42h1v1h-1zM40 42h2v1h-2zM44 42h2v1h-2zM48 42h3v1h-3zM54 42h1v1h-1zM60 42h3v1h-3zM5 43h3v1h-3zM23 43h1v1h-1zM27 43h1v1h-1zM38 43h1v1h-1zM45 43h1v1h-1zM50 43h1v1h-1zM54 43h1v1h-1zM61 43h1v1h-1zM63 43h1v1h-1zM0 44h2v1h-2zM12 44h1v1h-1zM17 44h1v1h-1zM34 44h1v1h-1zM36 44h1v1h-1zM43 44h3v1h-3zM47 44h1v1h-1zM49 44h1v1h-1zM52 44h1v1h-1zM55 44h2v1h-2zM61 44h2v1h-2zM30 45h1v1h-1zM33 45h1v1h-1zM47 45h3v1h-3zM59 45h1v1h-1zM61 45h1v1h-1zM9 46h1v1h-1zM27 46h1v1h-1zM37 46h1v1h-1zM39 46h1v1h-1zM49 46h1v1h-1zM51 46h1v1h-1zM58 46h4v1h-4zM17 47h1v1h-1zM24 47h3v1h-3zM42 47h1v1h-1zM47 47h2v1h-2zM50 47h1v1h-1zM52 47h1v1h-1zM62 47h2v1h-2zM14 48h3v1h-3zM18 48h1v1h-1zM25 48h1v1h-1zM43 48h1v1h-1zM47 48h1v1h-1zM57 48h2v1h-2zM30 49h1v1h-1zM32 49h1v1h-1zM36 49h1v1h-1zM40 49h1v1h-1zM46 49h2v1h-2zM51 49h1v1h-1zM54 49h3v1h-3z"/>
<path fill="#48d700" d="M30 0h2v1h-2zM34 0h1v1h-1zM37 0h2v1h-2zM55 0h1v1h-1zM20 1h1v1h-1zM40 1h1v1h-1zM61 1h2v1h-2zM4 2h1v1h-1zM7 2h1v1h-1zM19 2h1v1h-1zM22 2h1v1h-1zM26 2h1v1h-1zM30 2h1v1h-1zM32 2h1v1h-1zM34 2h1v1h-1zM44 2h1v1h-1zM54 2h1v1h-1zM3 3h1v1h-1zM20 3h1v1h-1zM27 3h1v1h-1zM30 3h1v1h-1zM34 3h1v1h-1zM37 3h2v1h-2zM55 3h1v1h-1zM23 4h1v1h-1zM25 4h2v1h-2zM28 4h1v1h-1zM42 4h2v1h-2zM53 4h1v1h-1zM62 4h2v1h-2zM18 5h2v1h-2zM23 5h2v1h-2zM34 5h1v1h-1zM38 5h2v1h-2zM48 5h1v1h-1zM52 5h1v1h-1zM62 5h2v1h-2zM20 6h1v1h-1zM51 6h1v1h-1zM57 6h1v1h-1zM59 6h2v1h-2zM62 6h2v1h-2zM9 7h1v1h-1zM13 7h2v1h-2zM18 7h1v1h-1zM26 7h1v1h-1zM40 7h2v1h-2zM50 8h1v1h-1zM36 9h1v1h-1zM45 9h1v1h-1zM52 9h1v1h-1zM59 9h1v1h-1zM28 10h1v1h-1zM36 10h1v1h-1zM39 10h1v1h-1zM47 10h1v1h-1zM62 10h2v1h-2zM28 11h1v1h-1zM31 11h1v1h-1zM34 11h1v1h-1zM46 11h1v1h-1zM55 11h1v1h-1zM29 12h1v1h-1zM45 12h1v1h-1zM61 12h1v1h-1zM35 13h3v1h-3zM51 13h1v1h-1zM27 14h1v1h-1zM30 14h1v1h-1zM34 14h1v1h-1zM51 14h1v1h-1zM59 14h1v1h-1zM34 15h1v1h-1zM38 15h1v1h-1zM43 15h1v1h-1zM54 15h1v1h-1zM35 16h1v1h-1zM40 16h3v1h-3zM45 16h1v1h-1zM55 16h1v1h-1zM57 16h1v1h-1zM51 17h1v1h-1zM30 18h1v1h-1zM37 18h1v1h-1zM40 18h2v1h-2zM45 18h1v1h-1zM53 18h1v1h-1zM58 18h1v1h-1zM43 19h3v1h-3zM52 19h1v1h-1zM42 20h1v1h-1zM47 20h1v1h-1zM51 20h1v1h-1zM35 21h1v1h-1zM34 22h1v1h-1zM59 22h2v1h-2zM63 22h1v1h-1zM47 23h1v1h-1zM52 23h1v1h-1zM34 24h1v1h-1zM56 24h2v1h-2zM52 25h1v1h-1zM57 25h1v1h-1zM59 25h1v1h-1zM61 25h1v1h-1zM32 26h1v1h-1zM41 26h1v1h-1zM53 26h1v1h-1zM57 26h1v1h-1zM34 27h1v1h-1zM40 27h1v1h-1zM47 27h1v1h-1zM57 27h2v1h-2zM63 27h1v1h-1zM31 28h2v1h-2zM44 28h2v1h-2zM49 28h1v1h-1zM63 28h1v1h-1zM32 29h1v1h-1zM37 29h1v1h-1zM52 29h1v1h-1zM59 29h1v1h-1zM30 30h1v1h-1zM59 30h1v1h-1zM50 31h2v1h-2zM55 31h2v1h-2zM27 32h2v1h-2zM30 32h1v1h-1zM45 32h1v1h-1zM50 32h2v1h-2zM55 32h1v1h-1zM62 32h1v1h-1zM37 33h1v1h-1zM46 33h1v1h-1zM53 33h3v1h-3zM59 33h1v1h-1zM45 34h2v1h-2zM57 34h1v1h-1zM61 34h1v1h-1zM30 35h2v1h-2zM34 35h2v1h-2zM52 35h1v1h-1zM56 35h1v1h-1zM58 35h2v1h-2zM23 36h1v1h-1zM31 36h1v1h-1zM36 36h1v1h-1zM38 36h1v1h-1zM49 36h1v1h-1zM59 36h2v1h-2zM62 36h1v1h-1zM36 37h3v1h-3zM48 37h1v1h-1zM50 37h1v1h-1zM55 37h1v1h-1zM63 37h1v1h-1zM37 38h1v1h-1zM45 38h1v1h-1zM49 38h1v1h-1zM57 38h1v1h-1zM61 38h2v1h-2zM31 39h1v1h-1zM63 39h1v1h-1zM37 40h1v1h-1zM44 40h1v1h-1zM48 40h1v1h-1zM53 40h1v1h-1zM60 40h1v1h-1zM62 40h2v1h-2zM35 41h1v1h-1zM43 41h2v1h-2zM51 41h1v1h-1zM56 41h6v1h-6zM58 42h1v1h-1zM63 42h1v1h-1zM18 43h1v1h-1zM39 43h1v1h-1zM57 43h1v1h-1zM62 43h1v1h-1zM18 44h1v1h-1zM32 44h1v1h-1zM50 44h1v1h-1zM53 44h2v1h-2zM59 44h2v1h-2zM31 45h2v1h-2zM53 45h1v1h-1zM55 45h1v1h-1zM55 46h1v1h-1zM23 47h1v1h-1zM36 47h2v1h-2zM51 47h1v1h-1zM54 47h1v1h-1zM56 47h3v1h-3zM46 48h1v1h-1zM53 48h1v1h-1zM60 49h2v1h-2z"/>
<path fill="#78da00" d="M4 0h1v1h-1zM51 0h1v1h-1zM18 1h1v1h-1zM21 1h1v1h-1zM23 1h1v1h-1zM39 1h1v1h-1zM41 1h1v1h-1zM21 2h1v1h-1zM27 2h2v1h-2zM31 2h1v1h-1zM55 2h1v1h-1zM4 3h1v1h-1zM48 3h1v1h-1zM52 3h1v1h-1zM62 3h1v1h-1zM16 4h1v1h-1zM31 4h1v1h-1zM36 4h1v1h-1zM40 4h1v1h-1zM41 5h1v1h-1zM49 5h1v1h-1zM51 5h1v1h-1zM19 6h1v1h-1zM29 6h2v1h-2zM32 6h1v1h-1zM37 6h1v1h-1zM39 6h1v1h-1zM49 6h1v1h-1zM49 8h1v1h-1zM56 9h1v1h-1zM27 10h1v1h-1zM29 10h1v1h-1zM32 10h1v1h-1zM40 10h1v1h-1zM42 10h1v1h-1zM49 10h1v1h-1zM54 10h1v1h-1zM60 10h1v1h-1zM27 11h1v1h-1zM35 11h1v1h-1zM53 11h1v1h-1zM57 11h1v1h-1zM60 11h1v1h-1zM42 12h2v1h-2zM56 12h1v1h-1zM43 13h1v1h-1zM49 13h1v1h-1zM29 14h1v1h-1zM41 14h2v1h-2zM44 14h1v1h-1zM52 14h1v1h-1zM55 14h1v1h-1zM40 15h1v1h-1zM46 15h1v1h-1zM51 15h1v1h-1zM61 15h1v1h-1zM35 17h1v1h-1zM48 17h1v1h-1zM57 17h2v1h-2zM29 18h1v1h-1zM32 18h1v1h-1zM36 18h1v1h-1zM42 18h1v1h-1zM54 18h2v1h-2zM62 18h1v1h-1zM32 19h2v1h-2zM37 19h1v1h-1zM40 19h2v1h-2zM47 19h1v1h-1zM51 19h1v1h-1zM55 19h1v1h-1zM35 20h1v1h-1zM49 20h1v1h-1zM54 20h1v1h-1zM36 21h1v1h-1zM51 21h1v1h-1zM55 21h1v1h-1zM57 21h1v1h-1zM60 21h1v1h-1zM31 22h1v1h-1zM41 22h3v1h-3zM50 22h1v1h-1zM55 22h1v1h-1zM58 22h1v1h-1zM35 23h1v1h-1zM53 23h1v1h-1zM57 23h1v1h-1zM50 24h2v1h-2zM50 26h1v1h-1zM32 27h1v1h-1zM37 27h1v1h-1zM61 27h1v1h-1zM35 28h1v1h-1zM56 28h1v1h-1zM31 29h1v1h-1zM33 29h1v1h-1zM40 29h1v1h-1zM48 29h2v1h-2zM51 29h1v1h-1zM53 29h1v1h-1zM60 30h1v1h-1zM54 31h1v1h-1zM31 32h1v1h-1zM33 32h1v1h-1zM52 32h1v1h-1zM60 32h1v1h-1zM33 33h1v1h-1zM36 33h1v1h-1zM41 33h1v1h-1zM38 34h1v1h-1zM42 34h2v1h-2zM54 34h1v1h-1zM62 34h1v1h-1zM28 35h1v1h-1zM63 35h1v1h-1zM32 36h1v1h-1zM35 36h1v1h-1zM43 36h1v1h-1zM56 37h1v1h-1zM62 37h1v1h-1zM41 38h1v1h-1zM43 38h1v1h-1zM46 38h2v1h-2zM56 38h1v1h-1zM38 39h1v1h-1zM48 39h1v1h-1zM60 39h1v1h-1zM36 40h1v1h-1zM43 40h1v1h-1zM54 40h2v1h-2zM58 40h1v1h-1zM45 41h1v1h-1zM52 41h1v1h-1zM56 42h1v1h-1zM60 43h1v1h-1zM35 44h1v1h-1zM52 45h1v1h-1zM38 46h1v1h-1zM50 46h1v1h-1zM57 46h1v1h-1zM53 47h1v1h-1zM36 48h1v1h-1zM51 48h1v1h-1z"/>
<path fill="#a5de00" d="M19 0h1v1h-1zM39 0h3v1h-3zM54 0h1v1h-1zM3 1h1v1h-1zM19 1h1v1h-1zM37 1h2v1h-2zM0 2h3v1h-3zM20 2h1v1h-1zM45 2h1v1h-1zM42 3h1v1h-1zM63 3h1v1h-1zM29 4h1v1h-1zM34 4h1v1h-1zM55 4h1v1h-1zM35 5h1v1h-1zM40 5h1v1h-1zM58 5h1v1h-1zM26 6h1v1h-1zM35 6h1v1h-1zM43 6h1v1h-1zM53 6h1v1h-1zM56 6h1v1h-1zM61 6h1v1h-1zM25 7h1v1h-1zM31 7h1v1h-1zM39 7h1v1h-1zM43 7h1v1h-1zM53 7h1v1h-1zM62 7h2v1h-2zM48 8h1v1h-1zM51 8h1v1h-1zM53 8h1v1h-1zM63 8h1v1h-1zM42 9h1v1h-1zM47 9h1v1h-1zM49 9h1v1h-1zM51 9h1v1h-1zM53 9h1v1h-1zM58 9h1v1h-1zM62 9h1v1h-1zM30 10h1v1h-1zM52 10h1v1h-1zM58 10h1v1h-1zM42 11h2v1h-2zM49 11h1v1h-1zM58 11h1v1h-1zM61 11h2v1h-2zM35 12h1v1h-1zM39 12h1v1h-1zM46 12h1v1h-1zM28 14h1v1h-1zM37 14h3v1h-3zM45 14h1v1h-1zM60 14h1v1h-1zM35 15h1v1h-1zM41 15h2v1h-2zM57 15h1v1h-1zM62 15h1v1h-1zM46 16h1v1h-1zM49 16h2v1h-2zM53 16h2v1h-2zM38 17h1v1h-1zM53 17h1v1h-1zM34 18h1v1h-1zM39 18h1v1h-1zM43 18h2v1h-2zM56 18h2v1h-2zM35 19h1v1h-1zM48 19h1v1h-1zM50 19h1v1h-1zM54 19h1v1h-1zM59 19h1v1h-1zM46 20h1v1h-1zM48 20h1v1h-1zM56 20h1v1h-1zM37 21h1v1h-1zM39 21h1v1h-1zM41 21h2v1h-2zM46 21h1v1h-1zM58 21h1v1h-1zM45 22h1v1h-1zM51 22h1v1h-1zM53 22h2v1h-2zM56 22h2v1h-2zM43 23h2v1h-2zM54 23h1v1h-1zM56 23h1v1h-1zM60 23h3v1h-3zM37 24h1v1h-1zM48 24h1v1h-1zM61 24h3v1h-3zM46 25h1v1h-1zM56 25h1v1h-1zM33 26h1v1h-1zM48 26h1v1h-1zM54 26h1v1h-1zM61 26h1v1h-1zM38 27h1v1h-1zM54 27h1v1h-1zM60 27h1v1h-1zM40 28h2v1h-2zM48 28h1v1h-1zM50 28h1v1h-1zM52 28h1v1h-1zM62 28h1v1h-1zM56 29h1v1h-1zM37 30h1v1h-1zM45 30h1v1h-1zM51 30h1v1h-1zM34 31h1v1h-1zM35 32h1v1h-1zM44 32h1v1h-1zM50 33h1v1h-1zM56 33h1v1h-1zM31 34h1v1h-1zM37 34h1v1h-1zM41 34h1v1h-1zM51 34h3v1h-3zM55 34h1v1h-1zM49 35h1v1h-1zM62 35h1v1h-1zM37 36h1v1h-1zM41 36h1v1h-1zM33 37h1v1h-1zM42 38h1v1h-1zM51 38h1v1h-1zM47 39h1v1h-1zM53 39h1v1h-1zM59 40h1v1h-1zM56 43h1v1h-1zM58 43h1v1h-1zM38 44h1v1h-1zM57 44h1v1h-1zM63 44h1v1h-1zM56 45h1v1h-1zM54 46h1v1h-1zM56 46h1v1h-1zM49 47h1v1h-1zM59 47h1v1h-1zM52 48h1v1h-1zM54 48h1v1h-1zM59 48h1v1h-1z"/>
<path fill="#cde100" d="M28 0h1v1h-1zM33 0h1v1h-1zM35 0h1v1h-1zM24 1h1v1h-1zM28 1h1v1h-1zM30 1h1v1h-1zM35 1h1v1h-1zM51 1h1v1h-1zM63 1h1v1h-1zM3 2h1v1h-1zM33 2h1v1h-1zM50 2h2v1h-2zM56 2h1v1h-1zM32 3h1v1h-1zM46 3h2v1h-2zM51 3h1v1h-1zM35 4h1v1h-1zM50 4h1v1h-1zM52 4h1v1h-1zM29 5h1v1h-1zM57 5h1v1h-1zM59 5h1v1h-1zM31 6h1v1h-1zM47 7h1v1h-1zM51 7h1v1h-1zM40 8h2v1h-2zM57 8h1v1h-1zM30 9h1v1h-1zM35 9h1v1h-1zM57 9h1v1h-1zM63 9h1v1h-1zM48 10h1v1h-1zM51 10h1v1h-1zM55 10h1v1h-1zM57 10h1v1h-1zM61 10h1v1h-1zM33 11h1v1h-1zM38 11h1v1h-1zM47 11h1v1h-1zM52 11h1v1h-1zM55 12h1v1h-1zM63 12h1v1h-1zM41 13h1v1h-1zM54 13h1v1h-1zM62 13h1v1h-1zM49 14h2v1h-2zM61 14h1v1h-1zM36 15h1v1h-1zM39 15h1v1h-1zM63 15h1v1h-1zM36 16h2v1h-2zM58 16h1v1h-1zM30 17h1v1h-1zM39 17h1v1h-1zM44 17h1v1h-1zM49 17h1v1h-1zM40 21h1v1h-1zM47 21h1v1h-1zM49 21h1v1h-1zM59 21h1v1h-1zM61 21h2v1h-2zM44 22h1v1h-1zM52 22h1v1h-1zM36 25h1v1h-1zM47 25h1v1h-1zM53 25h1v1h-1zM55 26h1v1h-1zM60 26h1v1h-1zM50 27h1v1h-1zM39 28h1v1h-1zM42 28h1v1h-1zM61 28h1v1h-1zM39 29h1v1h-1zM33 30h1v1h-1zM36 30h1v1h-1zM48 30h1v1h-1zM40 31h1v1h-1zM49 31h1v1h-1zM57 31h1v1h-1zM63 31h1v1h-1zM34 32h1v1h-1zM63 32h1v1h-1zM34 33h2v1h-2zM59 34h2v1h-2zM60 35h2v1h-2zM44 37h1v1h-1zM54 37h1v1h-1zM32 41h1v1h-1zM55 41h1v1h-1zM53 46h1v1h-1zM55 47h1v1h-1zM62 48h1v1h-1z"/>
<path fill="#e8d800" d="M3 0h1v1h-1zM21 0h1v1h-1zM29 0h1v1h-1zM36 0h1v1h-1zM45 0h3v1h-3zM61 0h1v1h-1zM36 1h1v1h-1zM44 1h1v1h-1zM47 1h2v1h-2zM29 2h1v1h-1zM46 2h1v1h-1zM58 2h3v1h-3zM33 3h1v1h-1zM49 3h2v1h-2zM32 4h2v1h-2zM41 4h1v1h-1zM51 4h1v1h-1zM61 4h1v1h-1zM45 5h1v1h-1zM38 6h1v1h-1zM42 6h1v1h-1zM46 6h2v1h-2zM32 7h1v1h-1zM37 7h2v1h-2zM45 7h2v1h-2zM49 7h1v1h-1zM52 7h1v1h-1zM55 7h1v1h-1zM61 7h1v1h-1zM39 8h1v1h-1zM47 8h1v1h-1zM56 8h1v1h-1zM34 9h1v1h-1zM46 9h1v1h-1zM54 9h1v1h-1zM60 9h1v1h-1zM31 10h1v1h-1zM50 10h1v1h-1zM39 11h1v1h-1zM44 11h2v1h-2zM51 11h1v1h-1zM47 12h1v1h-1zM58 12h1v1h-1zM62 12h1v1h-1zM59 13h1v1h-1zM63 13h1v1h-1zM35 14h2v1h-2zM40 14h1v1h-1zM48 14h1v1h-1zM45 15h1v1h-1zM52 16h1v1h-1zM61 16h1v1h-1zM63 16h1v1h-1zM29 17h1v1h-1zM40 17h2v1h-2zM45 17h1v1h-1zM47 17h1v1h-1zM54 17h1v1h-1zM49 18h1v1h-1zM34 19h1v1h-1zM58 19h1v1h-1zM61 19h1v1h-1zM36 20h2v1h-2zM60 20h2v1h-2zM45 21h1v1h-1zM35 22h1v1h-1zM34 23h1v1h-1zM39 23h1v1h-1zM45 24h1v1h-1zM53 24h1v1h-1zM38 25h1v1h-1zM51 25h1v1h-1zM37 26h1v1h-1zM43 26h2v1h-2zM53 27h1v1h-1zM43 28h1v1h-1zM60 28h1v1h-1zM34 29h1v1h-1zM38 29h1v1h-1zM42 29h2v1h-2zM61 29h1v1h-1zM35 30h1v1h-1zM52 30h1v1h-1zM53 32h1v1h-1zM56 32h1v1h-1zM40 33h1v1h-1zM36 34h1v1h-1zM32 35h1v1h-1zM38 35h1v1h-1zM50 35h2v1h-2zM48 36h1v1h-1zM42 37h1v1h-1zM51 37h1v1h-1zM51 45h1v1h-1zM62 45h2v1h-2z"/>
<path fill="#f1c000" d="M20 0h1v1h-1zM42 0h3v1h-3zM48 0h2v1h-2zM53 0h1v1h-1zM56 0h1v1h-1zM58 0h3v1h-3zM62 0h1v1h-1zM42 1h1v1h-1zM49 1h2v1h-2zM23 2h2v1h-2zM47 2h1v1h-1zM49 2h1v1h-1zM52 2h2v1h-2zM44 4h1v1h-1zM49 4h1v1h-1zM57 4h1v1h-1zM30 5h1v1h-1zM43 5h1v1h-1zM47 5h1v1h-1zM34 6h1v1h-1zM48 7h1v1h-1zM31 8h1v1h-1zM45 8h1v1h-1zM55 8h1v1h-1zM58 8h1v1h-1zM43 10h1v1h-1zM56 10h1v1h-1zM36 11h2v1h-2zM41 11h1v1h-1zM59 12h1v1h-1zM48 13h1v1h-1zM52 13h1v1h-1zM37 15h1v1h-1zM47 15h1v1h-1zM49 15h1v1h-1zM39 16h1v1h-1zM62 16h1v1h-1zM55 17h1v1h-1zM59 17h2v1h-2zM35 18h1v1h-1zM48 18h1v1h-1zM52 18h1v1h-1zM63 18h1v1h-1zM62 19h1v1h-1zM34 21h1v1h-1zM50 21h1v1h-1zM63 21h1v1h-1zM36 22h1v1h-1zM47 22h1v1h-1zM55 23h1v1h-1zM36 24h1v1h-1zM44 24h1v1h-1zM47 24h1v1h-1zM44 25h1v1h-1zM40 26h1v1h-1zM33 27h1v1h-1zM36 27h1v1h-1zM49 27h1v1h-1zM56 27h1v1h-1zM53 28h1v1h-1zM57 28h1v1h-1zM36 29h1v1h-1zM55 29h1v1h-1zM50 30h1v1h-1zM57 30h2v1h-2zM63 30h1v1h-1zM35 31h1v1h-1zM48 31h1v1h-1zM60 31h1v1h-1zM37 32h1v1h-1zM39 32h1v1h-1zM54 32h1v1h-1zM42 33h1v1h-1zM45 33h1v1h-1zM60 33h1v1h-1zM32 34h1v1h-1zM49 34h1v1h-1zM44 36h2v1h-2zM52 37h1v1h-1zM57 37h2v1h-2zM57 39h1v1h-1zM61 40h1v1h-1zM55 42h1v1h-1zM61 47h1v1h-1zM50 48h1v1h-1zM56 48h1v1h-1zM63 48h1v1h-1z"/>
<path fill="#f6a600" d="M2 0h1v1h-1zM2 1h1v1h-1zM53 1h1v1h-1zM57 2h1v1h-1zM46 4h1v1h-1zM56 4h1v1h-1zM50 5h1v1h-1zM45 6h1v1h-1zM50 6h1v1h-1zM55 6h1v1h-1zM54 7h1v1h-1zM56 7h1v1h-1zM43 9h1v1h-1zM61 9h1v1h-1zM40 11h1v1h-1zM52 12h2v1h-2zM40 13h1v1h-1zM60 13h2v1h-2zM46 14h2v1h-2zM52 15h1v1h-1zM56 17h1v1h-1zM61 17h1v1h-1zM38 18h1v1h-1zM49 19h1v1h-1zM52 20h1v1h-1zM57 20h1v1h-1zM37 22h1v1h-1zM46 22h1v1h-1zM42 23h1v1h-1zM60 24h1v1h-1zM43 25h1v1h-1zM48 25h2v1h-2zM36 26h1v1h-1zM38 26h1v1h-1zM49 26h1v1h-1zM35 27h1v1h-1zM44 29h1v1h-1zM34 30h1v1h-1zM44 30h1v1h-1zM44 31h4v1h-4zM59 31h1v1h-1zM61 31h2v1h-2zM58 32h1v1h-1zM57 33h1v1h-1zM61 33h1v1h-1zM33 34h1v1h-1zM43 35h2v1h-2zM48 35h1v1h-1zM42 36h1v1h-1zM46 36h1v1h-1zM54 36h1v1h-1zM63 36h1v1h-1zM57 42h1v1h-1zM55 43h1v1h-1zM50 45h1v1h-1zM60 47h1v1h-1zM55 48h1v1h-1zM60 48h1v1h-1z"/>
<path fill="#f78500" d="M1 0h1v1h-1zM32 0h1v1h-1zM57 0h1v1h-1zM63 0h1v1h-1zM1 1h1v1h-1zM29 1h1v1h-1zM58 1h3v1h-3zM62 2h1v1h-1zM23 7h1v1h-1zM50 7h1v1h-1zM48 11h1v1h-1zM37 12h1v1h-1zM47 13h1v1h-1zM53 13h1v1h-1zM57 13h2v1h-2zM43 14h1v1h-1zM57 14h1v1h-1zM59 15h1v1h-1zM51 16h1v1h-1zM53 19h1v1h-1zM39 20h1v1h-1zM44 20h1v1h-1zM53 20h1v1h-1zM59 20h1v1h-1zM48 22h2v1h-2zM37 25h1v1h-1zM39 25h2v1h-2zM51 26h1v1h-1zM59 26h1v1h-1zM45 27h1v1h-1zM55 27h1v1h-1zM36 28h1v1h-1zM35 29h1v1h-1zM41 29h1v1h-1zM46 29h1v1h-1zM63 29h1v1h-1zM43 30h1v1h-1zM38 32h1v1h-1zM40 32h1v1h-1zM46 32h2v1h-2zM49 33h1v1h-1zM35 34h1v1h-1zM44 34h1v1h-1zM50 34h1v1h-1zM40 35h1v1h-1zM47 35h1v1h-1zM34 36h1v1h-1zM47 36h1v1h-1zM52 36h1v1h-1zM43 37h1v1h-1zM60 38h1v1h-1zM63 49h1v1h-1z"/>
<path fill="#f76200" d="M0 0h1v1h-1zM0 1h1v1h-1zM43 1h1v1h-1zM54 1h1v1h-1zM56 1h1v1h-1zM48 2h1v1h-1zM45 4h1v1h-1zM31 5h2v1h-2zM42 7h1v1h-1zM57 7h1v1h-1zM46 8h1v1h-1zM48 9h1v1h-1zM63 11h1v1h-1zM36 12h1v1h-1zM54 12h1v1h-1zM48 15h1v1h-1zM60 16h1v1h-1zM46 17h1v1h-1zM43 20h1v1h-1zM52 24h1v1h-1zM59 24h1v1h-1zM41 25h1v1h-1zM46 26h1v1h-1zM54 28h1v1h-1zM62 29h1v1h-1zM38 30h1v1h-1zM42 30h1v1h-1zM41 31h3v1h-3zM36 32h1v1h-1zM38 33h2v1h-2zM34 34h1v1h-1zM47 34h1v1h-1zM56 34h1v1h-1zM39 35h1v1h-1zM39 36h1v1h-1zM53 37h1v1h-1zM59 37h1v1h-1zM52 38h1v1h-1zM61 48h1v1h-1zM62 49h1v1h-1z"/>
<path fill="#f23a00" d="M52 0h1v1h-1zM55 1h1v1h-1zM61 2h1v1h-1zM59 3h2v1h-2zM60 4h1v1h-1zM46 5h1v1h-1zM59 7h1v1h-1zM42 8h1v1h-1zM54 8h1v1h-1zM50 18h1v1h-1zM62 22h1v1h-1zM40 24h1v1h-1zM42 25h1v1h-1zM45 25h1v1h-1zM50 25h1v1h-1zM42 26h1v1h-1zM58 26h1v1h-1zM43 27h1v1h-1zM38 28h1v1h-1zM36 31h1v1h-1zM41 32h2v1h-2zM47 33h1v1h-1zM48 34h1v1h-1zM40 36h1v1h-1z"/>
<path fill="#e4120a" d="M57 1h1v1h-1zM56 3h3v1h-3zM61 3h1v1h-1zM58 4h2v1h-2zM54 6h1v1h-1zM24 7h1v1h-1zM60 7h1v1h-1zM30 8h1v1h-1zM43 8h2v1h-2zM52 8h1v1h-1zM59 8h4v1h-4zM50 11h1v1h-1zM59 11h1v1h-1zM38 12h1v1h-1zM58 14h1v1h-1zM58 15h1v1h-1zM38 16h1v1h-1zM59 16h1v1h-1zM51 18h1v1h-1zM63 19h1v1h-1zM38 20h1v1h-1zM56 21h1v1h-1zM61 22h1v1h-1zM39 24h1v1h-1zM41 24h3v1h-3zM39 26h1v1h-1zM45 26h1v1h-1zM52 26h1v1h-1zM39 27h1v1h-1zM41 27h2v1h-2zM44 27h1v1h-1zM37 28h1v1h-1zM46 28h2v1h-2zM45 29h1v1h-1zM54 29h1v1h-1zM39 30h3v1h-3zM49 30h1v1h-1zM61 30h2v1h-2zM37 31h3v1h-3zM58 31h1v1h-1zM43 32h1v1h-1zM48 32h2v1h-2zM57 32h1v1h-1zM43 33h2v1h-2zM48 33h1v1h-1zM62 33h1v1h-1zM33 35h1v1h-1zM36 35h2v1h-2zM53 35h3v1h-3zM33 36h1v1h-1zM50 36h2v1h-2zM53 36h1v1h-1zM60 37h1v1h-1zM48 38h1v1h-1zM63 38h1v1h-1z"/>
</svg>
<rect x="95" y="600" width="182" height="15.7" fill="#000"/>
<rect x="1100" y="599" width="182" height="15.8" fill="#000"/>
<text transform="translate(74.15 688.00) scale(0.9820 1.0000)" font-family="Liberation Sans, Arial, sans-serif" font-weight="bold" font-size="77.00">20 nm</text>
<text transform="translate(1079.55 686.80) scale(0.9820 1.0000)" font-family="Liberation Sans, Arial, sans-serif" font-weight="bold" font-size="77.00">20 nm</text>
<g clip-path="url(#hc)">
<text transform="translate(13.08 69.30)" font-family="Liberation Sans, Arial, sans-serif" font-weight="bold" font-size="75.00">(a)</text>
<text transform="translate(1006.25 69.50)" font-family="Liberation Sans, Arial, sans-serif" font-weight="bold" font-size="75.00">(b)</text>
<text transform="translate(10.55 787.70)" font-family="Liberation Sans, Arial, sans-serif" font-weight="bold" font-size="75.00">(c)</text>
<text transform="translate(1001.15 787.20)" font-family="Liberation Sans, Arial, sans-serif" font-weight="bold" font-size="75.00">(d)</text>
<text transform="translate(1456.31 69.70) scale(1.0000 1.0200)" font-family="Liberation Sans, Arial, sans-serif" font-weight="bold" font-size="76.00">f</text>
<text transform="translate(1481.10 84.00) scale(1.0000 1.0200)" font-family="Liberation Sans, Arial, sans-serif" font-weight="bold" font-size="53.00">rf</text>
<text transform="translate(1516.52 69.70) scale(0.9840 1.0000)" font-family="Liberation Sans, Arial, sans-serif" font-weight="bold" font-size="77.00">=1040 MHz</text>
</g>
<ellipse cx="1265.5" cy="423.9" rx="12.1" ry="12.4" fill="#4866ab" stroke="#000" stroke-width="6.9"/>
<ellipse cx="1300.9" cy="423.9" rx="12.1" ry="12.4" fill="#4866ab" stroke="#000" stroke-width="6.9"/>
<ellipse cx="1265.5" cy="458.9" rx="12.1" ry="12.4" fill="#4866ab" stroke="#000" stroke-width="6.9"/>
<ellipse cx="1300.9" cy="458.9" rx="12.1" ry="12.4" fill="#4866ab" stroke="#000" stroke-width="6.9"/>
<ellipse cx="1566.9" cy="421.8" rx="12.1" ry="12.4" fill="#a52126" stroke="#000" stroke-width="6.9"/>
<ellipse cx="1602.0" cy="421.8" rx="12.1" ry="12.4" fill="#a52126" stroke="#000" stroke-width="6.9"/>
<ellipse cx="1566.9" cy="457.0" rx="12.1" ry="12.4" fill="#a52126" stroke="#000" stroke-width="6.9"/>
<ellipse cx="1602.0" cy="457.0" rx="12.1" ry="12.4" fill="#a52126" stroke="#000" stroke-width="6.9"/>
<g fill="none" stroke-linejoin="round" stroke-linecap="butt" stroke-width="4.8">
<path stroke="#ff0000" d="M242.5 1010.0 L244.4 1008.1 L248.8 1003.2 L254.2 998.8 L258.1 1004.9 L261.9 1007.1 L264.1 1016.9 L268.4 1019.1 L271.2 1023.5 L272.8 1012.5 L275.0 996.1 L279.4 993.9 L283.8 988.4 L287.1 991.7 L290.3 980.8 L293.6 992.8 L296.9 997.2 L299.6 1002.7 L302.4 991.7 L305.7 990.6 L310.0 993.9 L312.8 1006.0 L316.0 1008.1 L319.3 995.0 L322.1 1001.6 L326.4 1000.5 L328.6 991.7 L334.1 988.4 L336.3 986.3 L340.1 990.6 L341.8 1024.6 L345.0 1021.3 L348.3 987.4 L350.5 987.4 L352.7 1003.8 L356.0 996.1 L359.3 987.4 L362.6 997.2 L366.9 1002.7 L370.8 1004.9 L371.3 1023.5 L373.5 1001.6 L376.8 1014.7 L381.2 1011.4 L386.6 1007.1 L389.9 1019.1 L393.2 1008.1 L396.5 1009.2 L399.8 1014.7 L404.1 1020.2 L408.5 1015.8 L410.7 993.9 L415.1 997.2 L417.2 997.2 L419.9 1013.6 L423.8 1012.5 L427.0 1000.5 L430.3 1000.5 L433.1 1014.7 L435.8 1004.9 L439.1 1007.1 L442.4 989.5 L445.1 991.7 L446.7 1009.2 L450.0 1009.2 L452.8 1000.5 L455.5 1008.1 L459.9 1006.0 L463.1 1006.0 L464.2 1019.1 L468.6 1021.3 L471.9 1025.7 L474.6 1012.5 L477.4 1019.1 L480.7 1012.5 L484.5 1021.3 L487.2 1020.2 L493.8 1012.5 L496.0 1012.5 L499.3 1020.2 L504.2 1024.6 L509.1 1007.1 L511.3 1006.0 L514.6 1013.6 L517.3 1021.3 L519.0 1018.0 L521.1 988.4 L523.9 983.0 L526.6 1006.0 L528.8 990.6 L532.1 989.5 L534.3 992.8 L536.5 1009.2 L538.6 1001.6 L541.9 1002.7 L546.3 1006.0 L550.7 1009.2 L554.0 1009.2 L556.2 999.4 L558.3 999.4 L560.5 1008.1 L563.8 1018.0 L567.1 1016.9 L570.4 1003.8 L574.8 990.6 L578.0 991.7 L582.4 991.7 L585.7 1000.5 L589.0 1003.8 L590.0 1004.9 L594.4 1008.1 L597.7 1021.3 L600.9 1021.3 L604.2 1016.9 L608.1 1025.7 L611.3 1021.3 L614.1 1013.6 L617.4 1022.4 L620.6 1014.7 L625.0 1021.3 L628.3 1020.2 L633.8 1012.5 L637.1 1022.4 L640.3 1014.7 L644.7 1015.8 L646.9 1002.7 L649.1 1002.7 L653.5 1006.0 L657.8 1012.5 L662.2 1021.3 L665.5 1019.1 L669.3 1009.2 L672.1 1010.3 L676.4 1022.4 L678.6 1016.9 L678.6 996.1 L681.9 996.1 L684.1 1006.0 L686.3 986.3 L688.5 995.0 L690.7 1003.8 L694.0 1013.6 L696.1 1025.7 L699.4 1024.6 L702.7 1020.2 L706.0 1021.3 L708.2 1026.7 L712.6 1022.4 L715.3 1034.4 L718.0 1027.8 L721.3 1023.5 L724.6 1019.1 L727.9 1010.3 L731.2 1019.1 L735.5 1015.8 L738.8 1021.3 L740.0 1016.2 L743.8 1004.7 L747.7 1012.4 L751.5 1006.6 L754.4 1004.7 L756.3 981.7 L761.1 981.7 L762.0 970.2 L763.0 935.8 L764.9 897.5 L766.8 859.2 L768.7 897.5 L769.7 935.8 L769.7 993.2 L770.6 1041.1 L773.5 1060.3 L778.3 1064.1 L781.2 1089.0 L786.0 1110.1 L789.8 1089.0 L790.8 1012.4 L791.7 954.9 L793.6 916.6 L796.1 880.2 L798.4 916.6 L800.3 945.3 L803.2 974.1 L806.1 991.3 L811.8 995.1 L816.6 1008.6 L822.4 1004.7 L826.2 1006.6 L831.9 995.1 L835.8 995.1 L839.6 1010.5 L844.4 1000.9 L850.1 999.0 L854.9 997.1 L860.7 987.5 L866.4 991.3 L872.2 995.1 L876.0 995.1 L879.8 1006.6 L883.7 1022.0"/>
<path stroke="#0000ff" d="M242.5 1094.0 L244.4 1094.0 L247.7 1089.1 L250.9 1088.0 L255.3 1084.7 L259.7 1088.0 L263.0 1092.9 L268.4 1092.4 L272.8 1095.7 L277.2 1099.0 L283.8 1099.0 L287.1 1098.4 L290.3 1092.4 L293.6 1101.2 L299.1 1104.4 L303.5 1097.9 L307.8 1100.1 L312.2 1099.0 L316.6 1097.9 L319.9 1101.2 L326.4 1100.1 L327.5 1091.3 L328.6 1078.2 L333.0 1074.9 L337.4 1076.0 L341.8 1086.9 L346.1 1080.4 L350.5 1080.4 L353.8 1084.7 L358.2 1072.7 L361.5 1079.3 L364.7 1083.6 L369.1 1081.5 L373.5 1084.7 L377.9 1082.6 L382.2 1076.0 L386.6 1074.9 L389.9 1081.5 L393.2 1076.0 L396.5 1079.3 L400.8 1080.4 L404.1 1083.6 L407.4 1080.4 L410.1 1069.4 L412.9 1073.8 L417.2 1076.0 L420.5 1086.9 L423.8 1085.8 L427.0 1078.2 L430.3 1077.1 L433.6 1081.5 L436.9 1077.1 L442.4 1070.5 L445.6 1080.4 L448.9 1076.0 L452.2 1076.0 L455.5 1083.6 L458.8 1084.7 L462.1 1081.5 L464.2 1091.3 L467.5 1089.1 L471.9 1089.1 L474.6 1084.7 L477.4 1094.6 L480.7 1089.1 L485.0 1091.3 L490.5 1089.1 L494.9 1088.0 L498.2 1088.0 L502.5 1085.8 L505.8 1082.6 L508.0 1081.5 L510.2 1088.0 L514.6 1091.3 L517.9 1104.4 L520.0 1104.4 L523.3 1097.9 L527.7 1091.3 L532.1 1090.2 L536.5 1096.8 L539.7 1094.6 L543.0 1097.9 L546.3 1103.3 L550.7 1099.0 L555.1 1091.3 L559.4 1092.4 L562.7 1092.4 L567.1 1086.9 L571.5 1082.6 L574.8 1073.8 L578.0 1073.8 L582.4 1073.8 L585.7 1078.2 L589.0 1082.6 L590.0 1080.4 L594.4 1081.5 L598.8 1077.1 L602.0 1083.6 L608.6 1082.6 L614.1 1078.2 L618.4 1082.6 L621.7 1079.3 L627.2 1081.5 L630.5 1079.3 L633.8 1076.0 L638.1 1080.4 L641.4 1078.2 L643.6 1082.6 L646.9 1071.6 L650.2 1077.1 L653.5 1076.0 L657.8 1080.4 L660.0 1085.8 L666.6 1085.8 L671.0 1085.8 L675.3 1094.6 L677.5 1084.7 L680.8 1093.5 L683.0 1088.0 L686.3 1080.4 L689.6 1088.0 L692.9 1094.6 L697.2 1094.6 L701.6 1097.9 L704.9 1085.8 L709.3 1089.1 L711.5 1089.1 L714.7 1094.6 L718.0 1088.0 L721.3 1085.8 L725.7 1090.2 L732.2 1090.2 L737.7 1093.5 L740.0 1083.2 L743.8 1085.2 L748.6 1094.7 L753.4 1092.8 L757.2 1081.3 L760.1 1069.8 L763.0 1050.7 L764.9 1031.5 L767.8 1025.8 L768.7 1050.7 L770.6 1069.8 L773.5 1083.2 L776.4 1081.3 L780.2 1073.7 L784.1 1087.1 L789.8 1090.9 L795.5 1094.7 L801.3 1094.7 L807.0 1092.8 L810.9 1087.1 L816.6 1081.3 L822.4 1083.2 L828.1 1087.1 L833.9 1085.2 L837.7 1089.0 L842.5 1096.7 L847.3 1089.0 L853.0 1087.1 L858.8 1079.4 L862.6 1075.6 L867.4 1069.8 L872.2 1073.7 L877.9 1077.5 L881.7 1083.2 L884.6 1087.1"/>
<path stroke="#000000" d="M241.9 1205.0 L255.7 1205.0 L271.5 1206.6 L287.2 1208.2 L302.9 1209.8 L315.5 1212.1 L326.5 1215.3 L334.4 1219.2 L342.2 1225.5 L350.1 1234.9 L356.4 1246.7 L361.1 1260.9 L365.0 1276.6 L367.4 1286.8 L371.3 1281.3 L372.9 1253.0 L374.5 1221.6 L375.6 1190.1 L376.8 1158.6 L378.4 1127.2 L380.8 1100.4 L383.4 1089.4 L386.3 1097.3 L389.4 1111.5 L392.6 1124.0 L397.3 1136.6 L403.6 1147.6 L411.4 1156.3 L420.9 1162.6 L428.7 1165.7 L444.5 1168.9 L460.2 1171.2 L520.0 1172.5 L600.0 1173.5 L700.0 1174.2 L800.0 1174.7 L886.0 1175.0"/>
<path stroke="#800080" d="M1212.5 1110.8 L1214.3 1110.8 L1215.5 1094.8 L1218.0 1098.5 L1219.8 1103.4 L1223.5 1104.6 L1226.6 1107.1 L1227.8 1116.9 L1230.3 1108.3 L1232.8 1108.3 L1235.8 1115.7 L1239.5 1121.9 L1241.4 1125.6 L1243.2 1120.6 L1243.2 1098.5 L1244.5 1080.0 L1245.7 1066.5 L1246.9 1055.4 L1249.4 1054.2 L1251.9 1054.2 L1253.1 1040.6 L1255.5 1040.6 L1258.6 1054.2 L1261.7 1054.2 L1264.2 1044.3 L1269.1 1044.3 L1271.5 1048.0 L1274.0 1049.2 L1277.1 1039.4 L1278.9 1044.3 L1282.6 1064.0 L1286.9 1081.2 L1288.2 1061.5 L1290.0 1040.6 L1291.9 1055.4 L1292.5 1071.4 L1294.9 1059.1 L1297.4 1059.1 L1298.6 1080.0 L1299.9 1110.8 L1301.7 1124.3 L1304.8 1124.3 L1307.2 1114.5 L1309.7 1114.5 L1312.2 1141.6 L1314.6 1144.0 L1317.1 1141.6 L1318.3 1108.3 L1320.8 1110.8 L1323.2 1118.2 L1325.7 1115.7 L1328.2 1123.1 L1329.4 1128.0 L1331.9 1128.0 L1334.9 1115.7 L1338.0 1123.1 L1340.5 1147.7 L1342.9 1147.7 L1345.4 1123.1 L1347.9 1129.2 L1350.3 1139.1 L1355.2 1151.4 L1358.9 1146.5 L1363.9 1145.2 L1367.6 1142.8 L1370.0 1147.7 L1374.9 1144.0 L1379.9 1142.8 L1382.3 1130.5 L1384.8 1129.2 L1387.3 1132.9 L1390.9 1128.0 L1397.1 1130.5 L1402.0 1136.6 L1406.9 1136.6 L1409.4 1150.2 L1411.9 1136.6 L1415.6 1135.4 L1419.3 1147.7 L1419.8 1147.7 L1422.3 1140.3 L1426.0 1129.2 L1429.1 1121.9 L1431.5 1128.0 L1433.4 1131.7 L1435.8 1128.0 L1439.5 1131.7 L1442.6 1136.6 L1446.3 1131.7 L1448.2 1113.2 L1450.6 1113.2 L1453.1 1123.1 L1456.8 1125.6 L1461.7 1119.4 L1466.6 1125.6 L1470.3 1136.6 L1474.0 1142.8 L1478.9 1142.8 L1479.5 1120.6 L1481.4 1108.3 L1485.1 1108.3 L1486.3 1086.2 L1488.8 1061.5 L1491.2 1039.4 L1494.9 1036.9 L1496.2 1059.1 L1496.8 1080.0 L1498.0 1103.4 L1500.5 1078.8 L1503.5 1078.8 L1507.2 1088.6 L1512.2 1084.9 L1515.9 1082.5 L1517.1 1056.6 L1519.6 1068.9 L1523.2 1086.2 L1528.2 1096.0 L1531.9 1113.2 L1535.6 1132.9 L1538.0 1132.9 L1540.5 1123.1 L1544.2 1123.1 L1547.9 1128.0 L1552.8 1130.5 L1556.5 1137.9 L1558.9 1124.3 L1562.6 1132.9 L1566.3 1132.9 L1568.2 1163.7 L1570.0 1163.7 L1572.5 1148.9 L1576.2 1150.2 L1578.6 1157.6 L1583.6 1152.6 L1589.7 1152.6 L1592.2 1148.9 L1595.9 1155.1 L1600.8 1147.7 L1604.5 1155.1 L1611.9 1155.1 L1614.3 1142.8 L1619.3 1137.9 L1619.9 1137.6 L1622.3 1136.4 L1624.8 1145.0 L1627.9 1148.7 L1629.7 1131.5 L1632.2 1131.5 L1634.6 1142.6 L1636.5 1133.9 L1639.6 1124.1 L1642.6 1131.5 L1645.1 1127.8 L1646.9 1115.5 L1650.6 1103.2 L1653.7 1098.2 L1656.8 1101.9 L1660.5 1106.8 L1664.2 1103.2 L1666.0 1115.5 L1669.1 1132.7 L1671.6 1127.8 L1672.2 1106.8 L1674.0 1108.1 L1675.9 1127.8 L1677.7 1140.1 L1681.4 1138.9 L1685.1 1141.3 L1691.3 1141.3 L1695.0 1131.5 L1698.7 1119.2 L1701.1 1122.9 L1702.4 1129.0 L1704.8 1125.3 L1708.5 1125.3 L1712.2 1127.8 L1714.7 1115.5 L1717.1 1101.9 L1720.0 1104.3 L1723.1 1098.0 L1727.9 1083.9 L1731.0 1120.1 L1734.2 1107.5 L1737.3 1079.1 L1738.9 1107.5 L1740.5 1154.7 L1742.0 1208.2 L1745.2 1208.2 L1748.3 1223.9 L1751.5 1258.5 L1756.2 1286.8 L1759.3 1249.1 L1760.9 1154.7 L1762.5 1060.3 L1764.1 981.6 L1766.6 858.9 L1768.8 950.1 L1771.9 1013.1 L1775.1 1060.3 L1779.8 1085.4 L1784.5 1123.2 L1787.7 1126.3 L1795.5 1120.1 L1798.7 1107.5 L1803.4 1101.2 L1809.7 1101.2 L1814.4 1088.6 L1820.7 1101.2 L1827.0 1104.3 L1831.7 1116.9 L1836.4 1129.5 L1839.6 1138.9 L1844.3 1132.6 L1849.0 1129.5 L1853.7 1142.1 L1855.9 1145.2"/>
</g>
<line x1="236.5" y1="861.6" x2="242.0" y2="861.6" stroke="#000" stroke-width="3.5"/>
<text transform="translate(136.10 884.71) scale(0.9850 1.0600)" font-family="Liberation Sans, Arial, sans-serif" font-weight="bold" font-size="60.00">200</text>
<line x1="236.5" y1="970.7" x2="242.0" y2="970.7" stroke="#000" stroke-width="3.5"/>
<text transform="translate(136.10 993.81) scale(0.9850 1.0600)" font-family="Liberation Sans, Arial, sans-serif" font-weight="bold" font-size="60.00">200</text>
<line x1="236.5" y1="1079.8" x2="242.0" y2="1079.8" stroke="#000" stroke-width="3.5"/>
<text transform="translate(136.10 1102.91) scale(0.9850 1.0600)" font-family="Liberation Sans, Arial, sans-serif" font-weight="bold" font-size="60.00">100</text>
<line x1="236.5" y1="1188.9" x2="242.0" y2="1188.9" stroke="#000" stroke-width="3.5"/>
<text transform="translate(201.82 1212.01) scale(0.9850 1.0600)" font-family="Liberation Sans, Arial, sans-serif" font-weight="bold" font-size="60.00">0</text>
<line x1="236.5" y1="1298.0" x2="242.0" y2="1298.0" stroke="#000" stroke-width="3.5"/>
<text transform="translate(116.42 1317.81) scale(0.9850 1.0600)" font-family="Liberation Sans, Arial, sans-serif" font-weight="bold" font-size="60.00">-100</text>
<line x1="236.5" y1="916.2" x2="242.0" y2="916.2" stroke="#000" stroke-width="1.6"/>
<line x1="236.5" y1="1025.2" x2="242.0" y2="1025.2" stroke="#000" stroke-width="1.6"/>
<line x1="236.5" y1="1134.3" x2="242.0" y2="1134.3" stroke="#000" stroke-width="1.6"/>
<line x1="236.5" y1="1243.5" x2="242.0" y2="1243.5" stroke="#000" stroke-width="1.6"/>
<line x1="295.8" y1="1309.5" x2="295.8" y2="1315.0" stroke="#000" stroke-width="3.5"/>
<text transform="translate(255.29 1365.30) scale(0.9850 1.0600)" font-family="Liberation Sans, Arial, sans-serif" font-weight="bold" font-size="60.00">0.8</text>
<line x1="403.4" y1="1309.5" x2="403.4" y2="1315.0" stroke="#000" stroke-width="3.5"/>
<text transform="translate(362.50 1365.30) scale(0.9850 1.0600)" font-family="Liberation Sans, Arial, sans-serif" font-weight="bold" font-size="60.00">1.0</text>
<line x1="511.0" y1="1309.5" x2="511.0" y2="1315.0" stroke="#000" stroke-width="3.5"/>
<text transform="translate(470.08 1365.30) scale(0.9850 1.0600)" font-family="Liberation Sans, Arial, sans-serif" font-weight="bold" font-size="60.00">1.2</text>
<line x1="618.6" y1="1309.5" x2="618.6" y2="1315.0" stroke="#000" stroke-width="3.5"/>
<text transform="translate(576.64 1365.30) scale(0.9850 1.0600)" font-family="Liberation Sans, Arial, sans-serif" font-weight="bold" font-size="60.00">1.4</text>
<line x1="726.2" y1="1309.5" x2="726.2" y2="1315.0" stroke="#000" stroke-width="3.5"/>
<text transform="translate(685.16 1365.30) scale(0.9850 1.0600)" font-family="Liberation Sans, Arial, sans-serif" font-weight="bold" font-size="60.00">1.6</text>
<line x1="833.8" y1="1309.5" x2="833.8" y2="1315.0" stroke="#000" stroke-width="3.5"/>
<text transform="translate(792.61 1365.30) scale(0.9850 1.0600)" font-family="Liberation Sans, Arial, sans-serif" font-weight="bold" font-size="60.00">1.8</text>
<rect x="242.0" y="838.0" width="644.6" height="471.5" fill="none" stroke="#000" stroke-width="3.8"/>
<line x1="1206.5" y1="880.3" x2="1212.0" y2="880.3" stroke="#000" stroke-width="3.5"/>
<text transform="translate(1104.90 903.41) scale(0.9850 1.0600)" font-family="Liberation Sans, Arial, sans-serif" font-weight="bold" font-size="60.00">160</text>
<line x1="1206.5" y1="1014.7" x2="1212.0" y2="1014.7" stroke="#000" stroke-width="3.5"/>
<text transform="translate(1104.90 1037.81) scale(0.9850 1.0600)" font-family="Liberation Sans, Arial, sans-serif" font-weight="bold" font-size="60.00">120</text>
<line x1="1206.5" y1="1149.1" x2="1212.0" y2="1149.1" stroke="#000" stroke-width="3.5"/>
<text transform="translate(1137.76 1172.21) scale(0.9850 1.0600)" font-family="Liberation Sans, Arial, sans-serif" font-weight="bold" font-size="60.00">80</text>
<line x1="1206.5" y1="1283.5" x2="1212.0" y2="1283.5" stroke="#000" stroke-width="3.5"/>
<text transform="translate(1137.76 1307.41) scale(0.9850 1.0600)" font-family="Liberation Sans, Arial, sans-serif" font-weight="bold" font-size="60.00">40</text>
<line x1="1206.5" y1="947.5" x2="1212.0" y2="947.5" stroke="#000" stroke-width="1.6"/>
<line x1="1206.5" y1="1081.9" x2="1212.0" y2="1081.9" stroke="#000" stroke-width="1.6"/>
<line x1="1206.5" y1="1216.3" x2="1212.0" y2="1216.3" stroke="#000" stroke-width="1.6"/>
<line x1="1265.8" y1="1309.0" x2="1265.8" y2="1314.5" stroke="#000" stroke-width="3.5"/>
<text transform="translate(1225.29 1365.30) scale(0.9850 1.0600)" font-family="Liberation Sans, Arial, sans-serif" font-weight="bold" font-size="60.00">0.8</text>
<line x1="1373.4" y1="1309.0" x2="1373.4" y2="1314.5" stroke="#000" stroke-width="3.5"/>
<text transform="translate(1332.50 1365.30) scale(0.9850 1.0600)" font-family="Liberation Sans, Arial, sans-serif" font-weight="bold" font-size="60.00">1.0</text>
<line x1="1481.0" y1="1309.0" x2="1481.0" y2="1314.5" stroke="#000" stroke-width="3.5"/>
<text transform="translate(1440.08 1365.30) scale(0.9850 1.0600)" font-family="Liberation Sans, Arial, sans-serif" font-weight="bold" font-size="60.00">1.2</text>
<line x1="1588.6" y1="1309.0" x2="1588.6" y2="1314.5" stroke="#000" stroke-width="3.5"/>
<text transform="translate(1546.64 1365.30) scale(0.9850 1.0600)" font-family="Liberation Sans, Arial, sans-serif" font-weight="bold" font-size="60.00">1.4</text>
<line x1="1696.2" y1="1309.0" x2="1696.2" y2="1314.5" stroke="#000" stroke-width="3.5"/>
<text transform="translate(1655.16 1365.30) scale(0.9850 1.0600)" font-family="Liberation Sans, Arial, sans-serif" font-weight="bold" font-size="60.00">1.6</text>
<line x1="1803.8" y1="1309.0" x2="1803.8" y2="1314.5" stroke="#000" stroke-width="3.5"/>
<text transform="translate(1762.61 1365.30) scale(0.9850 1.0600)" font-family="Liberation Sans, Arial, sans-serif" font-weight="bold" font-size="60.00">1.8</text>
<rect x="1212.0" y="838.0" width="646.0" height="471.0" fill="none" stroke="#000" stroke-width="3.8"/>
<rect x="255" y="851.3" width="233" height="119" rx="7" ry="7" fill="#fff" fill-opacity="0.8" stroke="#d3d3d3" stroke-width="3"/>
<line x1="263" y1="870.6" x2="319" y2="870.6" stroke="#ff0000" stroke-width="4.5"/>
<text transform="translate(338.17 880.40) scale(0.9750 1.0300)" font-family="Liberation Sans, Arial, sans-serif" font-size="26.60">Vortex core</text>
<line x1="263" y1="908.1" x2="319" y2="908.1" stroke="#0000ff" stroke-width="4.5"/>
<text transform="translate(336.17 917.95) scale(0.9750 1.0300)" font-family="Liberation Sans, Arial, sans-serif" font-size="26.60">Next to core</text>
<line x1="263" y1="945.7" x2="319" y2="945.7" stroke="#000000" stroke-width="4.5"/>
<text transform="translate(337.11 955.50) scale(0.9750 1.0300)" font-family="Liberation Sans, Arial, sans-serif" font-size="26.60">Simulated</text>
<text transform="translate(409.51 1430.80) scale(1.0000 1.0200)" font-family="Liberation Sans, Arial, sans-serif" font-weight="bold" font-size="76.00">f</text>
<text transform="translate(435.60 1430.80) scale(1.0000 1.0200)" font-family="Liberation Sans, Arial, sans-serif" font-weight="bold" font-size="53.00">rf</text>
<text transform="translate(495.85 1430.80)" font-family="Liberation Sans, Arial, sans-serif" font-weight="bold" font-size="75.00">(GHz)</text>
<text transform="translate(1380.01 1430.80) scale(1.0000 1.0200)" font-family="Liberation Sans, Arial, sans-serif" font-weight="bold" font-size="76.00">f</text>
<text transform="translate(1406.10 1430.80) scale(1.0000 1.0200)" font-family="Liberation Sans, Arial, sans-serif" font-weight="bold" font-size="53.00">rf</text>
<text transform="translate(1466.35 1430.80)" font-family="Liberation Sans, Arial, sans-serif" font-weight="bold" font-size="75.00">(GHz)</text>
<g transform="translate(71.00 1350.00) rotate(-90)"><text transform="translate(4.59 -0.80)" font-family="DejaVu Sans, sans-serif" font-style="oblique" font-size="74.50" stroke="#000" stroke-width="2.20" stroke-linejoin="round">I</text><text transform="translate(25.64 20.40)" font-family="DejaVu Sans, sans-serif" font-style="oblique" font-size="49.00" stroke="#000" stroke-width="1.90" stroke-linejoin="round">h</text><text transform="translate(57.85 -2.00)" font-family="Liberation Sans, Arial, sans-serif" font-weight="bold" font-size="75.00">+</text><text transform="translate(100.59 -0.80)" font-family="DejaVu Sans, sans-serif" font-style="oblique" font-size="74.50" stroke="#000" stroke-width="2.20" stroke-linejoin="round">I</text><text transform="translate(121.53 20.40)" font-family="DejaVu Sans, sans-serif" font-style="oblique" font-size="49.00" stroke="#000" stroke-width="1.90" stroke-linejoin="round">nonlinear</text><text transform="translate(372.35 0.00)" font-family="Liberation Sans, Arial, sans-serif" font-weight="bold" font-size="75.00">(pA)</text></g>
<g transform="translate(1066.70 1349.00) rotate(-90)"><text transform="translate(3.59 -0.80)" font-family="DejaVu Sans, sans-serif" font-style="oblique" font-size="74.50" stroke="#000" stroke-width="2.20" stroke-linejoin="round">I</text><text transform="translate(24.64 20.40)" font-family="DejaVu Sans, sans-serif" font-style="oblique" font-size="49.00" stroke="#000" stroke-width="1.90" stroke-linejoin="round">h</text><text transform="translate(56.85 -2.00)" font-family="Liberation Sans, Arial, sans-serif" font-weight="bold" font-size="75.00">+</text><text transform="translate(99.59 -0.80)" font-family="DejaVu Sans, sans-serif" font-style="oblique" font-size="74.50" stroke="#000" stroke-width="2.20" stroke-linejoin="round">I</text><text transform="translate(120.53 20.40)" font-family="DejaVu Sans, sans-serif" font-style="oblique" font-size="49.00" stroke="#000" stroke-width="1.90" stroke-linejoin="round">nonlinear</text><text transform="translate(371.35 0.00)" font-family="Liberation Sans, Arial, sans-serif" font-weight="bold" font-size="75.00">(pA)</text></g>
</svg>
</body></html>
